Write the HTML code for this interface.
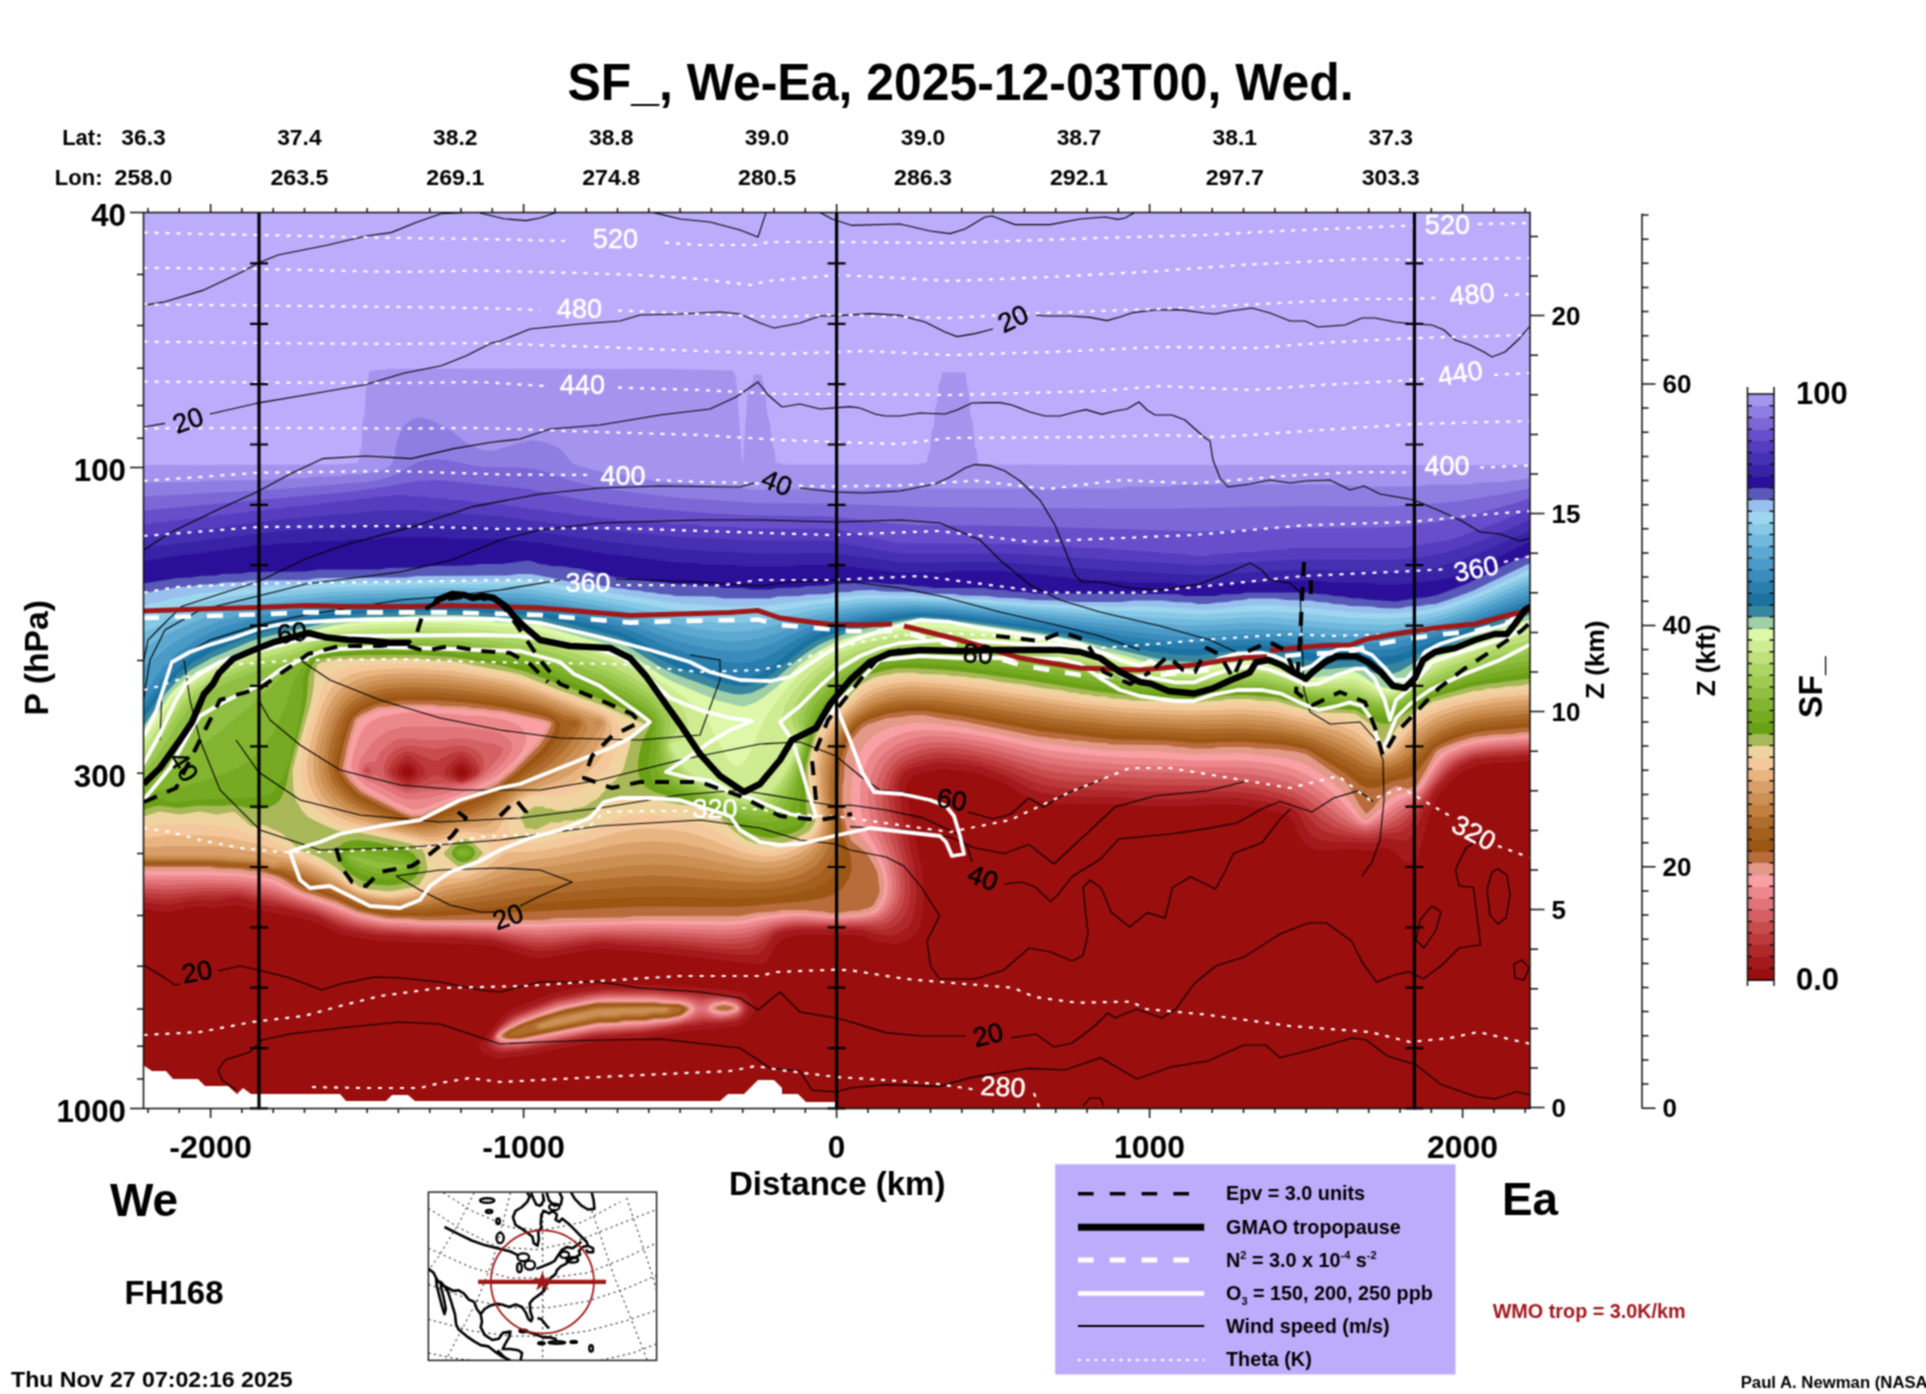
<!DOCTYPE html>
<html><head><meta charset="utf-8"><title>SF_ We-Ea</title><style>html,body{margin:0;padding:0;background:#fff}svg{display:block}</style></head><body>
<svg width="1926" height="1394" viewBox="0 0 1926 1394" font-family="Liberation Sans, Arial, Helvetica, sans-serif">
<defs><filter id="soft" filterUnits="userSpaceOnUse" x="0" y="0" width="1926" height="1394" color-interpolation-filters="sRGB"><feConvolveMatrix order="3" kernelMatrix="1 2 1 2 4 2 1 2 1" divisor="16" edgeMode="duplicate" preserveAlpha="true"/></filter></defs>
<g filter="url(#soft)">
<rect width="1926" height="1394" fill="#fff"/>
<defs><clipPath id="pc"><rect x="143.5" y="212.5" width="1386.5" height="895.9"/></clipPath></defs>
<g clip-path="url(#pc)">
<rect x="143.5" y="212.5" width="1386.5" height="895.9" fill="#9A0E0E"/>
<path fill="#A41A1C" d="M145.5,212.5 1530,212.5 1530,760.5 1511.5,762.5 1495.5,763 1477.5,765 1465.5,770 1456,776.5 1442,790.5 1435.5,801 1428.5,816.5 1418,856.5 1415.5,861.5 1411.5,863.5 1407.5,863 1403.5,861 1393.5,851 1387.5,848 1383.5,847.5 1375.5,850 1369.5,850.5 1349.5,849 1323.5,850.5 1317.5,850 1313.5,849 1306.5,844.5 1301.5,839.5 1298.5,834.5 1293.5,822 1289.5,817 1281.5,813 1265.5,809.5 1239.5,805 1231.5,804.5 1207.5,804.5 1191.5,806 1141.5,806 1121.5,804.5 1057.5,804 1035.5,800 1027.5,797.5 1003.5,782.5 979.5,773.5 963.5,771 941.5,769 921.5,773 913.5,776 910,778.5 907.5,782.5 906,788.5 910.5,816.5 921.5,866.5 923.5,888.5 923.5,906.5 921,922.5 917.5,932.5 913.5,936 905.5,941 899.5,943.5 895.5,944 877.5,942 863.5,936 857.5,935 809.5,934.5 795.5,935.5 785.5,938 780.5,940.5 777,944.5 767,960.5 763.5,963.5 759.5,964 735.5,962 661.5,953.5 603.5,948.5 595.5,949 543.5,958 537.5,958 527.5,956 497.5,947 487.5,945 379.5,941 359.5,938 339.5,934 319.5,924 311.5,921 287.5,915.5 257.5,910 237.5,905 231.5,905 213.5,908 197.5,906 169.5,912 163.5,912 143.5,909 143.5,212.5ZM406,766.5 403.5,768.5 401,772.5 402.5,774.5 405.5,776.5 409.5,776.5 412.5,774.5 414,772.5 413.5,771.5 409.5,766.5 407.5,766ZM460,766.5 457.5,768.5 455.5,772.5 457.5,775 461.5,776.5 465.5,775 467.5,772.5 467,770.5 463.5,767 461.5,766ZM617.5,984.5 659.5,985 671.5,986.5 695.5,987 735.5,991 743.5,993 747.5,995 753,1004.5 754,1010.5 752,1014.5 747,1020.5 741.5,1024.5 737.5,1026 723.5,1028 687.5,1031 643.5,1038 597.5,1041 523.5,1056 503.5,1058 495.5,1058 485.5,1054 481.5,1051 479,1048.5 479,1046.5 479.5,1044.5 497.5,1021.5 505.5,1013.5 513.5,1008.5 551.5,993.5 561.5,991 597.5,985Z"/>
<path fill="#B0282A" d="M145.5,212.5 1530,212.5 1530,755 1519.5,755.5 1511.5,757 1491.5,757.5 1485.5,759 1475.5,759.5 1472,760.5 1459.5,766.5 1452,772.5 1435.5,790 1423,812.5 1415.5,830 1413,834.5 1409.5,838 1405.5,840.5 1401.5,841 1385.5,838 1375.5,842.5 1369.5,843.5 1359.5,842.5 1329.5,841.5 1319.5,839.5 1313.5,836.5 1309.5,832.5 1305.5,827 1299,814.5 1295.5,810.5 1291.5,808.5 1278.5,804.5 1267.5,802 1235.5,797.5 1203.5,797.5 1187.5,799 1149.5,799 1137.5,799 1125.5,797.5 1059.5,796 1039.5,792 1031.5,789.5 1007,776.5 981.5,767 965.5,764.5 943.5,762.5 935.5,762.5 919.5,766.5 911.5,768.5 904,772.5 899.5,780.5 898,786.5 903,818.5 908,838.5 914.5,868.5 916.5,890.5 916,902.5 913,916.5 911,922.5 907.5,927.5 899.5,933.5 891.5,935.5 879.5,935 861.5,930 797.5,929.5 781.5,932 775,934.5 765.5,947.5 761.5,952 757.5,954.5 753.5,955 737.5,955 663.5,947 643.5,946.5 635.5,945 617.5,944.5 607.5,943 595.5,943.5 553.5,950 537.5,951.5 489.5,939.5 469.5,939.5 459.5,938 413.5,937.5 405.5,936 377.5,935.5 361.5,933 349.5,931 339.5,928 315.5,916 281.5,907.5 269.5,906 259.5,904 237.5,897.5 233.5,897.5 213.5,901 197.5,899.5 167.5,905 143.5,902.5 143.5,212.5ZM405.5,762.5 401.5,765 398.5,768.5 397.5,772.5 398,774.5 401.5,778 405.5,780 409.5,780.5 413.5,778 417,774.5 418,772.5 417.5,770.5 415,766.5 411.5,763.5 407.5,762ZM459.5,762.5 455.5,765 452.5,768.5 451.5,772.5 452.5,774.5 455.5,777 458,778.5 461.5,779.5 468.5,776.5 470.5,774.5 471.5,770.5 469,766.5 465.5,763.5 461.5,762ZM595.5,990 605.5,989 657.5,989 667.5,991 691.5,991.5 701.5,993.5 713.5,993.5 719.5,994.5 733.5,995 741.5,997.5 745.5,1000.5 748,1006.5 748.5,1010.5 743.5,1017.5 737.5,1021.5 727.5,1022.5 723.5,1023.5 705.5,1023.5 697.5,1025.5 685.5,1026 679.5,1028 647.5,1032.5 643.5,1033.5 623.5,1034 617.5,1035.5 595.5,1036.5 521.5,1051.5 511.5,1052 505.5,1053 499.5,1053 493.5,1051 488,1046.5 487.5,1044.5 488,1040.5 496,1028.5 507.5,1017 513.5,1013.5 553.5,998 563.5,995.5 571.5,994.5 575.5,993Z"/>
<path fill="#BC383A" d="M145.5,212.5 1530,212.5 1530,752.5 1491.5,755 1475.5,757 1469.5,759 1459.5,763.5 1450,770.5 1435.5,786 1413.5,820 1407.5,827 1399.5,832 1385.5,834 1373.5,838 1367.5,839 1345.5,836.5 1327.5,832.5 1321.5,829.5 1315.5,825 1302.5,810.5 1295.5,805 1281.5,799.5 1265.5,796 1243.5,792.5 1231.5,791.5 1151.5,792 1065.5,788.5 1051.5,786.5 1037.5,783.5 1003.5,769.5 979.5,762 965.5,759.5 943.5,757.5 933.5,758.5 921.5,760.5 909.5,764.5 901.5,769.5 895.5,778.5 893.5,786.5 893.5,796.5 895.5,810.5 907.5,860.5 910,880.5 910.5,892.5 909.5,902.5 906.5,912.5 901.5,920.5 893.5,926.5 887.5,929 881.5,930 875.5,929.5 861.5,927.5 803.5,927 793.5,927.5 781.5,929.5 773.5,932.5 763.5,941.5 757.5,945.5 751.5,948 745.5,949 723.5,949 663.5,943 605.5,940 593.5,940.5 551.5,946 537.5,947 527.5,945.5 489.5,937.5 471.5,937 459.5,935.5 415.5,935 405.5,933.5 379.5,933 361.5,930 341.5,925.5 315.5,913.5 281.5,904.5 237.5,894.5 215.5,896 197.5,895.5 167.5,899.5 143.5,898 143.5,212.5ZM405,756.5 395.5,765 391.5,770.5 391.5,772.5 392.5,774.5 399.5,780 407.5,784.5 413.5,782.5 421.5,777 424,774.5 425,772.5 423.5,768 416,760.5 409.5,756 407.5,755.5ZM458.5,756.5 447.5,765.5 445,768.5 444,772.5 445.5,774.5 448.5,776.5 457,780.5 461.5,781.5 469.5,778.5 475,774.5 477,772.5 477,770.5 473.5,765.5 467,758.5 461.5,755.5ZM593.5,992.5 603.5,991 655.5,991 667.5,992.5 689.5,994 701.5,996 713.5,995.5 731.5,996.5 741.5,1000.5 744.5,1004.5 745.5,1008.5 744.5,1012.5 739.5,1018 735.5,1019.5 723.5,1021.5 703.5,1021.5 643.5,1031.5 597,1034.5 519.5,1049.5 501.5,1050.5 495.5,1048.5 492,1044.5 491,1042.5 491.5,1038.5 494.5,1032.5 503.5,1023 513.5,1016 555.5,999.5 585.5,993.5Z"/>
<path fill="#C84C4C" d="M145.5,212.5 1530,212.5 1530,749.5 1493.5,752 1477.5,754 1469.5,756 1459.5,760.5 1451.5,765.5 1443.5,773.5 1433.5,785 1415.5,809.5 1403.5,822 1397.5,826 1391.5,828 1373.5,834 1365.5,835 1349.5,832.5 1333.5,827 1322.5,820.5 1304,804.5 1295.5,799 1281.5,793.5 1263.5,789 1247.5,787 1231.5,785.5 1151.5,785.5 1069.5,781.5 1053.5,779.5 1039.5,776 997.5,761.5 975.5,756 959.5,754 943.5,752.5 933.5,753 921.5,755 907.5,760 898,766.5 892.5,774.5 890,780.5 888.5,786.5 888,798.5 890,812.5 902.5,860.5 905,880.5 905,892.5 903.5,902.5 900,910.5 895.5,917 887.5,923 877.5,925.5 799.5,925 783.5,926.5 773.5,929.5 755.5,940 749.5,942 741.5,943.5 723.5,944 663.5,939.5 603.5,937 591.5,937.5 549.5,942.5 537.5,942.5 525.5,941.5 489.5,935 457.5,933.5 419.5,933 381.5,930.5 363.5,928 349.5,925 339.5,921.5 315.5,911 281.5,901.5 241.5,892 233.5,891 197.5,892 167.5,894.5 143.5,893 143.5,212.5ZM403,752.5 396.5,756.5 391.5,762 388.5,768.5 388,772.5 389.5,775.5 392.5,778.5 399.5,783.5 405.5,786.5 409.5,787 415.5,785 425,780.5 433.5,775 437.5,775.5 447.5,780 461.5,783 471.5,779 477.5,775 479.5,772.5 479,766.5 475.5,759.5 470,754.5 463.5,751.5 459.5,751.5 454.5,752.5 437.5,760 433.5,761 413.5,752.5 407.5,751.5ZM591.5,994.5 605.5,992.5 651.5,992.5 685.5,995.5 701.5,998.5 713.5,997.5 727.5,997.5 733.5,998.5 739.5,1001.5 742.5,1004.5 743.5,1008.5 742,1012.5 739.5,1015.5 735.5,1017.5 731.5,1018.5 719.5,1020 701.5,1019 677.5,1024.5 643.5,1030 595.5,1033 521.5,1047.5 507.5,1048.5 501.5,1048 497.5,1046.5 494,1042.5 493,1038.5 493.5,1036.5 497.5,1030.5 507.5,1021.5 515.5,1016.5 555.5,1001.5Z"/>
<path fill="#D46064" d="M145.5,212.5 1530,212.5 1530,746.5 1493.5,749.5 1481.5,751 1469.5,753.5 1459.5,757.5 1451.5,762 1444.5,768.5 1435.5,779 1421.5,797.5 1411.5,808 1401.5,816.5 1393.5,821.5 1383.5,826.5 1373.5,830 1365.5,831.5 1353.5,829 1338.5,822.5 1327.5,815.5 1307.5,799.5 1295.5,792.5 1281.5,787 1265.5,783 1249.5,781 1231.5,779.5 1149.5,778.5 1073.5,774.5 1057.5,772.5 1041.5,769.5 995.5,755.5 971.5,750.5 955.5,748 941.5,747.5 929.5,748 919.5,750 905.5,755 899.5,758.5 894.5,762.5 887,772.5 883,784.5 882,796.5 883.5,812.5 886.5,826.5 897.5,860.5 900.5,880.5 900.5,890.5 898.5,900.5 895,908.5 890.5,914.5 885.5,918.5 881.5,920.5 871.5,922.5 835.5,924 799.5,922.5 785.5,924 773.5,927 751.5,936.5 739.5,938.5 721.5,939 661.5,935.5 603.5,934 587.5,935 549.5,938.5 537.5,938.5 525.5,937.5 489.5,932.5 457.5,931 421.5,931 383.5,928.5 365.5,926 351.5,922.5 315.5,908.5 273.5,895.5 243.5,888.5 229.5,887.5 197.5,888 167.5,889.5 143.5,888.5 143.5,212.5ZM402.5,746.5 395.5,749.5 388,756.5 384,764.5 383.5,770.5 386,776.5 389.5,780.5 397.5,785.5 405.5,789.5 413.5,789 435.5,783.5 463.5,783.5 471.5,780.5 477.5,777 481.5,772.5 483.5,768.5 484,760.5 481,754.5 475.5,750 467.5,746.5 457.5,745.5 439.5,748.5 433.5,749 411.5,745.5ZM365,768.5 364,770.5 365.5,772.5 367.5,773.5 370,772.5 371,770.5 369.5,767.5 367.5,767ZM603.5,994.5 655.5,994.5 685.5,997.5 701.5,1001.5 713.5,999 727.5,999 733.5,1000 737.5,1002 740.5,1004.5 742,1008.5 740.5,1012.5 738,1014.5 729.5,1017.5 719.5,1018.5 701.5,1016 681.5,1022.5 667.5,1025 641.5,1028.5 595.5,1031.5 521.5,1046 503.5,1046.5 497.5,1044 495,1040.5 494.5,1036.5 499.5,1029.5 509.5,1022 519.5,1016.5 557.5,1002.5 587.5,996.5Z"/>
<path fill="#E07478" d="M145.5,212.5 1530,212.5 1530,744 1481.5,748 1469.5,750.5 1457.5,755.5 1449.5,760 1443.5,765.5 1437.5,772.5 1423.5,791.5 1413.5,801 1395.5,814.5 1386,820.5 1373.5,826.5 1365.5,828 1357.5,826.5 1346,820.5 1334.5,812.5 1315,796.5 1301.5,788 1285.5,781.5 1267.5,777 1251.5,774.5 1233.5,773 1185.5,773 1141.5,771.5 1079.5,768 1045.5,763.5 991.5,749 965.5,744 949.5,742.5 937.5,742 925.5,743 915.5,744.5 901.5,749.5 895.5,753.5 889.5,758.5 884.5,764.5 881,770.5 878.5,776.5 876,784.5 875,798.5 877,814.5 880.5,828.5 892.5,860.5 896,878.5 896,888.5 895,896.5 892,904.5 887.5,911 879.5,917 869.5,920 839.5,922 801.5,920.5 789.5,921 775.5,923.5 751.5,931.5 737.5,934 719.5,934.5 657.5,931.5 603.5,931 537.5,935 489.5,930.5 421.5,928.5 385.5,926.5 367.5,924 353.5,920.5 321.5,908 277.5,893 261.5,888.5 247.5,885.5 227.5,884 197.5,883.5 165.5,885 143.5,884 143.5,212.5ZM402,738.5 393.5,741 385.5,747 380,752.5 375.5,761.5 369.5,762 365.5,763.5 362.5,766.5 361.5,770.5 363.5,774 367.5,776 371.5,776 375.5,774.5 377.5,775 387.5,784 401.5,791.5 405.5,793 415.5,793 423.5,791 435.5,790.5 461.5,785.5 471.5,782.5 477.5,779.5 484,774.5 499.5,756.5 503.5,748.5 501,746.5 491.5,743.5 465.5,738.5 451.5,738.5 443.5,740 433.5,740 421.5,740 413.5,738.5ZM599.5,996.5 649.5,996 679.5,998.5 690.5,1000.5 701.5,1006 713.5,1001 725.5,1000 736,1002.5 739.5,1005.5 740.5,1008.5 740,1010.5 737.5,1013 729.5,1016 721.5,1017 715.5,1016.5 709.5,1014.5 701.5,1011.5 689.5,1018 677.5,1022 643.5,1026.5 597.5,1030 521.5,1044.5 511.5,1045 503.5,1044.5 497.5,1041.5 495.5,1038.5 496.5,1034.5 501.5,1029.5 511.5,1022.5 521.5,1017.5 557.5,1004.5Z"/>
<path fill="#EC888C" d="M145.5,212.5 1530,212.5 1530,741 1495.5,743.5 1477.5,746 1465.5,749 1453.5,754 1447.5,757.5 1441.5,763 1435.5,770.5 1423.5,788 1417.5,794 1398,806.5 1378,820.5 1371.5,824 1365.5,825.5 1359.5,824 1354,820.5 1324,794.5 1309.5,784.5 1293.5,776.5 1273.5,771 1255.5,768.5 1237.5,767 1185.5,766.5 1117.5,764 1085.5,761.5 1063.5,759.5 1045.5,756.5 989.5,743 959.5,738 945.5,736.5 931.5,736 919.5,737 909.5,739.5 895.5,745 885,752.5 876.5,762.5 873.5,768.5 870.5,776.5 869,784.5 868,794.5 869,812.5 873.5,828.5 884.5,852.5 889,864.5 891.5,876.5 892,888.5 891,894.5 889.5,900.5 886,906.5 883,910.5 877.5,914.5 873.5,916.5 861.5,918.5 835.5,920 801.5,918 789.5,918.5 773.5,921 745.5,928 727.5,930 637.5,927.5 591.5,928 537.5,931 487.5,928 419.5,926.5 385.5,924.5 357.5,919 325,906.5 297.5,897.5 273.5,888 251.5,882.5 235.5,880.5 205.5,879.5 143.5,880 143.5,212.5ZM406.5,726.5 397.5,728 389.5,730.5 383.5,733.5 377.5,738 371.5,744 361.5,757.5 359,762.5 358,768.5 360,774.5 365.5,780 375.5,784 397.5,796 407.5,799.5 419.5,799.5 435.5,796.5 455.5,791 475.5,784 487.5,776.5 499.5,766.5 508.5,756.5 512.5,748.5 511.5,742.5 507.5,737.5 499.5,733 489.5,730.5 475.5,728.5 459.5,727ZM595.5,998.5 607.5,997.5 649.5,997.5 679.5,1000 685.5,1001 691.5,1003 695.5,1006.5 696.5,1008.5 694.5,1012.5 689,1016.5 681.5,1019.5 669.5,1022 645.5,1025 597.5,1028 521.5,1043 511.5,1043.5 503.5,1043 499.5,1041.5 497,1038.5 496.5,1036.5 497,1034.5 499.5,1032 511.5,1024 521.5,1019 557.5,1006ZM715.5,1002 723.5,1001 731.5,1002.5 737.5,1005 739.5,1008.5 737.5,1011.5 729.5,1014.5 721.5,1015.5 713.5,1014 709.5,1012.5 707.5,1010.5 707,1008.5 709.5,1004.5Z"/>
<path fill="#F8A0A4" d="M145.5,212.5 1530,212.5 1530,738 1495.5,740.5 1477.5,743 1463.5,746.5 1451.5,751.5 1445.5,755 1439.5,760.5 1433.5,768.5 1423.5,784.5 1419.5,789.5 1411.5,795 1395.5,802 1372,820.5 1368.5,822.5 1365.5,823 1361.5,821.5 1357.5,818.5 1333.5,793.5 1317.5,780.5 1299.5,771 1289.5,767.5 1279.5,765 1263.5,762.5 1241.5,760.5 1191.5,760.5 1159.5,758.5 1115.5,757 1093.5,755.5 1045.5,750 983.5,736.5 953.5,731.5 925.5,730 913.5,731 903.5,733 895.5,736 887.5,739.5 881.5,743.5 876,748.5 871,754.5 867.5,760.5 862.5,774.5 860.5,784.5 860,796.5 860.5,806.5 862,816.5 866.5,830.5 879,852.5 884,864.5 887,874.5 888,888.5 886,898.5 883,904.5 879.5,909.5 875.5,912.5 871.5,914 859.5,916.5 833.5,918 803.5,915.5 789.5,916 765.5,919.5 743.5,924 727.5,925.5 639.5,924 579.5,925.5 537.5,927.5 487.5,925.5 419.5,924.5 407.5,923 385.5,922 357.5,916.5 332.5,906.5 299.5,895.5 273.5,884 255.5,879 237.5,876.5 205.5,875.5 143.5,875.5 143.5,212.5ZM406.5,712.5 381.5,716.5 372.5,720.5 365.5,726 361.5,731.5 357.5,740.5 352.5,756.5 351,766.5 352.5,770.5 357.5,778.5 365.5,786 395.5,802.5 411.5,809 417.5,809.5 423.5,808 469.5,790.5 493,778.5 497.5,776 509.5,765.5 516.5,758.5 522.5,750.5 525.5,742.5 526.5,738.5 526,734.5 522.5,728.5 519.5,726 513.5,723 501.5,719 481.5,716 463.5,715.5 455.5,714 435.5,713.5 423.5,712ZM593.5,1000.5 605.5,999.5 655.5,999.5 663.5,1000.5 681.5,1001.5 690,1004.5 693,1006.5 694,1008.5 693.5,1010.5 691.5,1012.5 685,1016.5 679.5,1018.5 667.5,1021 655.5,1022 647.5,1023.5 627.5,1024 617.5,1025.5 597.5,1026.5 521.5,1041.5 503.5,1041 499.5,1039.5 497.5,1037 498.5,1034.5 503.5,1030.5 523.5,1020 557.5,1007.5ZM721.5,1002 725.5,1002 733.5,1004 737.5,1006.5 738.5,1008.5 737.5,1010 735.5,1011.5 725.5,1014 717.5,1013.5 713.5,1012.5 710,1010.5 709,1008.5 710,1006.5 711.5,1005Z"/>
<path fill="#E49888" d="M145.5,212.5 1530,212.5 1530,735.5 1521.5,735.5 1513.5,737 1493.5,737.5 1475.5,740 1461.5,744 1445.5,751 1440,754.5 1436.5,758.5 1419.5,786.5 1409.5,792.5 1399.5,793.5 1391.5,797.5 1385.5,802.5 1370,818.5 1367.5,820.5 1365.5,821 1363.5,820 1360,816.5 1341.5,790.5 1333,782.5 1321.5,774 1307.5,765.5 1299.5,762 1289.5,759 1273.5,756.5 1243.5,753.5 1225.5,753.5 1193.5,754.5 1161.5,751.5 1115.5,751 1091.5,749 1049.5,744 1035.5,742 969.5,728.5 933.5,723.5 913.5,723 895,726.5 885.5,729.5 876,734.5 869.5,739.5 863.5,746.5 859,754.5 855,764.5 853,774.5 851,790.5 851.5,806.5 855,824.5 859.5,834.5 872,850.5 880.5,866.5 882.5,872.5 884.5,884.5 884,894.5 878,906.5 873.5,910.5 869.5,912.5 861.5,914 843.5,916 829.5,916 803.5,913 793.5,913 783.5,913.5 759.5,916.5 743.5,920 731.5,921 639.5,920.5 623.5,921.5 561.5,922.5 539.5,924 417.5,922.5 409.5,921 385.5,920 357.5,914.5 333.5,904 301.5,894 275.5,880 259.5,875.5 239.5,873 217.5,872 207.5,871 143.5,871 143.5,212.5ZM397.5,708.5 379.5,709.5 361.5,718 358,720.5 356,724.5 350,746.5 346,764.5 346,768.5 346.5,770.5 354.5,780.5 363.5,789.5 393.5,805.5 411.5,814 421.5,813.5 435.5,807 471.5,793 497.5,780.5 505.5,773 511.5,769 528,752.5 540,738.5 546.5,728.5 548,724.5 545.5,722.5 531.5,719 501.5,713 491.5,713 483.5,711 469.5,710.5 457.5,709 439.5,708.5 429.5,707 403.5,707ZM593.5,1002 603.5,1001 655.5,1001 663.5,1002.5 681.5,1003 689.5,1006 691.5,1008.5 691,1010.5 683.5,1015.5 679.5,1017.5 667.5,1019.5 653.5,1020.5 647.5,1022 625.5,1022.5 617.5,1024 597.5,1024.5 521.5,1040 509.5,1040 503.5,1039.5 500.5,1038.5 499,1036.5 499.5,1034.5 502.5,1032.5 515.5,1025 539.5,1015.5 565.5,1007.5ZM717.5,1004.5 725.5,1003.5 733.5,1005.5 735.5,1006.5 737,1008.5 735.5,1009.5 729.5,1012 723.5,1012.5 713.5,1010.5 711.5,1009 711,1008.5 712.5,1006.5Z"/>
<path fill="#B86C3C" d="M145.5,212.5 1530,212.5 1530,732 1519.5,732.5 1511.5,734 1491.5,734.5 1485.5,736 1475.5,736.5 1459.5,741 1443.5,747 1437.5,750.5 1435.5,752.5 1417.5,784.5 1409.5,788.5 1406.5,788.5 1397.5,786 1395.5,786 1389.5,789.5 1385.5,792.5 1371.5,809.5 1367.5,813 1365.5,813.5 1359.5,805 1347.5,784 1344.5,780.5 1309.5,756 1305.5,754 1295.5,751.5 1285.5,750.5 1277.5,749 1257.5,748.5 1249.5,747 1219.5,747 1211.5,748.5 1193.5,748.5 1183.5,747 1173.5,746.5 1165.5,745 1111.5,744.5 1105.5,743 1091.5,742.5 1085.5,741 1071.5,740.5 1065.5,739 1051.5,738.5 1045.5,737 1037.5,736.5 961.5,721 941.5,718.5 923.5,715 907.5,715.5 901.5,717 887.5,718 867.5,724.5 861.5,728.5 851.5,740.5 849.5,744.5 845,758.5 844,778.5 842.5,786.5 842.5,804.5 844.5,820.5 847,830.5 851,840.5 866,852.5 873.5,864.5 877.5,873 879.5,888.5 879.5,893 877.5,897.5 873.5,905 871.5,906.5 867.5,908.5 863.5,909 860,910.5 849.5,911 843.5,912.5 829.5,913 823.5,911.5 811.5,911 805.5,910 787.5,910 781.5,910 775.5,911.5 757.5,912.5 739.5,916 635.5,916 623.5,917.5 555.5,918 547.5,919.5 541.5,920 421.5,920 411.5,918.5 387.5,918 357.5,911.5 335.5,901.5 303.5,891.5 295.5,887.5 283.5,879.5 277.5,876.5 259.5,871.5 247.5,870.5 239.5,869 217.5,868.5 209.5,867 143.5,867 143.5,212.5ZM400.5,704.5 395.5,706 377.5,707 361.5,714.5 356,718.5 354,722.5 347.5,744.5 342.5,768.5 344,772.5 351.5,782.5 361.5,792 401.5,812.5 411.5,816.5 421.5,816 481.5,792 497.5,784 513.5,771 540,744.5 545.5,736.5 551,726.5 551.5,724.5 551,722.5 549.5,721.5 541.5,719 501.5,710.5 491.5,710 485.5,708.5 471.5,708 465.5,706.5 441.5,706 433.5,704.5ZM597.5,1002.5 655.5,1002.5 661.5,1003.5 679.5,1004 686,1006.5 688.5,1008.5 687.5,1010.5 682.5,1014.5 679.5,1016 667.5,1018.5 653.5,1019 645.5,1020.5 623.5,1021 617.5,1022.5 597.5,1023 521.5,1038.5 509.5,1039 505.5,1038.5 502,1036.5 502.5,1034.5 505,1032.5 509.5,1029.5 521.5,1023.5 539.5,1017 565.5,1009ZM717.5,1006.5 723.5,1005 731.5,1006.5 733.5,1008.5 728,1010.5 720.5,1010.5 715,1008.5Z"/>
<path fill="#9C5614" d="M145.5,212.5 1530,212.5 1530,727.5 1491.5,730.5 1475.5,732.5 1465.5,735 1453.5,739 1441.5,744 1434,748.5 1419.5,769 1411.5,776.5 1405.5,779 1395.5,780.5 1377.5,787.5 1371.5,788 1365.5,787.5 1359.5,784.5 1345.5,773.5 1311.5,752 1305.5,749 1295.5,747 1279.5,744.5 1247.5,742 1221.5,742 1197.5,743.5 1165.5,740.5 1115.5,739.5 1039.5,731 963.5,716.5 925.5,711 907.5,711 887.5,713.5 867.5,720 863,722.5 858,726.5 847,740.5 841,758.5 838.5,784.5 839,808.5 843.5,836.5 850,854.5 851.5,860.5 851.5,870.5 849,878.5 843.5,887 839.5,890.5 833.5,894.5 822,898.5 807.5,901 735.5,907 641.5,906.5 431.5,916.5 391.5,915.5 377.5,913.5 359.5,909.5 335.5,898.5 303.5,887.5 281.5,875.5 261.5,869.5 241.5,867 219.5,866.5 211.5,865 143.5,865 143.5,212.5ZM402,700.5 375.5,704 361.5,710.5 353.5,716.5 350.5,722.5 344,742.5 340,760.5 339,768.5 340,772.5 347,782.5 352.5,788.5 359.5,794.5 382.5,806.5 409.5,818.5 421.5,818.5 433.5,815 473.5,799.5 485.5,794.5 497.5,788 517,772.5 541.5,749.5 550,738.5 553.5,732 555.5,726.5 555,722.5 553.5,720.5 549.5,718 533.5,713.5 503.5,707.5 465.5,702.5 435.5,700.5ZM595.5,1004 601.5,1003.5 655.5,1003.5 661.5,1004.5 679.5,1005 683,1006.5 685.5,1008.5 685,1010.5 683.5,1012.5 679.5,1014.5 667.5,1017 653.5,1017.5 645.5,1019.5 623.5,1019.5 617.5,1021.5 597.5,1021.5 521.5,1037.5 511.5,1038 506,1036.5 505.5,1034.5 507.5,1032 521.5,1025 539.5,1018 565.5,1010Z"/>
<path fill="#A4601E" d="M145.5,212.5 1530,212.5 1530,723 1485.5,727 1469.5,730 1455.5,734 1441.5,740 1433.5,744.5 1429,748.5 1415.5,764.5 1407.5,771 1401.5,773.5 1387.5,777.5 1379.5,779 1373.5,779.5 1365.5,778 1359.5,775.5 1328.5,756.5 1311.5,747.5 1299.5,743.5 1281.5,740.5 1245.5,737.5 1197.5,738.5 1163.5,736 1115.5,734.5 1043.5,726.5 965.5,713 927.5,707.5 909.5,707 887.5,710 869.5,716 858.5,722.5 853.5,727.5 846.5,736.5 843,742.5 840.5,750.5 837.5,762.5 835.5,790.5 836,806.5 840.5,854.5 839,864.5 835,872.5 830,878.5 825.5,882.5 814,888.5 797.5,893 773.5,896.5 733.5,898.5 669.5,896.5 635.5,897 559.5,901.5 427.5,912.5 391.5,912.5 377.5,910.5 359.5,906.5 335.5,895.5 305.5,884.5 285.5,874.5 259.5,867.5 241.5,865.5 225.5,865 209.5,863.5 143.5,863 143.5,212.5ZM399,696.5 381.5,698.5 371.5,701 359.5,707 351.5,714 346.5,722.5 341,738.5 337,756.5 336,768.5 337.5,774.5 342.5,782.5 349,790.5 356,796.5 363.5,801 377.5,808 399.5,817 409.5,820.5 421.5,821 433.5,818.5 473.5,804 491.5,795.5 501.5,789 518,776.5 542,756.5 548,750.5 554,742.5 558,736.5 560,730.5 560.5,726.5 559,722.5 553.5,717 539.5,712 513.5,705.5 487.5,701.5 461.5,698.5 427.5,696ZM593.5,1006 599.5,1005 653.5,1004.5 679.5,1006 683.5,1008.5 683.5,1010.5 679.5,1013 667.5,1016 653.5,1016 645.5,1018 623.5,1018.5 617.5,1020 597.5,1020.5 515.5,1037 509.5,1037 507,1034.5 508.5,1032.5 521.5,1026 557.5,1013.5Z"/>
<path fill="#B06C2C" d="M145.5,212.5 1530,212.5 1530,718.5 1481.5,723 1467.5,726 1453.5,730 1441.5,735.5 1431.5,741.5 1411.5,761 1403.5,766.5 1391.5,771 1377.5,773 1369.5,772 1361.5,769 1329.5,751 1313.5,744 1299.5,739.5 1279.5,736 1245.5,733 1195.5,733.5 1115.5,730 1047.5,722.5 967.5,708.5 933.5,704.5 909.5,703.5 887.5,706.5 871.5,711.5 863.5,715.5 857.5,720 851.5,725.5 845.5,733 842,738.5 838.5,746.5 835,760.5 833,782.5 833,796.5 835,826.5 834.5,842.5 832.5,854.5 828,864.5 819.5,873.5 807.5,881 791.5,886 771.5,889 739.5,890 669.5,886 629.5,887 535.5,895 423.5,909 391.5,909.5 375.5,907.5 359.5,904 287.5,872.5 281.5,870.5 271.5,869.5 257.5,865.5 243.5,864 209.5,861.5 143.5,861.5 143.5,212.5ZM394,692.5 379.5,694.5 367.5,698 355.5,705 347.5,712.5 342,722.5 336.5,738.5 332.5,756.5 332.5,768.5 334.5,776.5 339,784.5 345.5,792.5 353.5,799 362,804.5 375,810.5 397.5,819.5 409.5,823 421.5,824 435.5,821 473.5,808.5 489.5,801 501.5,793 545.5,760.5 557.5,748.5 569.5,731 578,724.5 578,722.5 575.5,720.5 565.5,720.5 553.5,713.5 543.5,710 523.5,704 501.5,699.5 467.5,695 435.5,692 413.5,691.5ZM597.5,1006.5 655.5,1006 667.5,1006.5 681,1008.5 680.5,1010.5 677.5,1012 665.5,1015 651.5,1015 645.5,1017 623.5,1017 617.5,1018.5 597.5,1019 591.5,1021 521.5,1034.5 513.5,1035.5 509,1034.5 511.5,1032.5 524.5,1026.5 557.5,1015Z"/>
<path fill="#C08040" d="M145.5,212.5 1530,212.5 1530,713.5 1481.5,718.5 1465.5,722 1451.5,726.5 1439.5,731.5 1429.5,738 1409.5,756.5 1401.5,762 1391.5,766.5 1381.5,767.5 1373.5,767 1365.5,764.5 1333.5,747.5 1315.5,740 1299.5,735 1277.5,731.5 1243.5,728.5 1193.5,729 1117.5,725.5 1051.5,718 971.5,705 939.5,700.5 913.5,699.5 901.5,700 889.5,702 879.5,704.5 871.5,708 857.5,716 851.5,721.5 845.5,728.5 841,734.5 837,742.5 832.5,756.5 830,774.5 829.5,792.5 831.5,820.5 831,832.5 828.5,846.5 823.5,857 815.5,866 803.5,873.5 789.5,878.5 771.5,881.5 755.5,882.5 739.5,882 667.5,876 649.5,875.5 629.5,876.5 595.5,879.5 527.5,887.5 477.5,896.5 421.5,905.5 391.5,907 375.5,905 361.5,902 352.5,898.5 325.5,885 291,870.5 283.5,868.5 273.5,868.5 255.5,863 211.5,860 143.5,860 143.5,212.5ZM388,688.5 373.5,691 361.5,695.5 351.5,702 343.5,710.5 337,722.5 331,740.5 328,756.5 328.5,770.5 331.5,780.5 336.5,788.5 343.5,796.5 351,802.5 361.5,808.5 373.5,813.5 395.5,821.5 409.5,825.5 421.5,826.5 435.5,825 473.5,813.5 487.5,807 515.5,787 544,768.5 554.5,760.5 567.5,746.5 578,732.5 581.5,726.5 581.5,722.5 580,720.5 577.5,718.5 565.5,715.5 551.5,709.5 537.5,704.5 505.5,696.5 469.5,691 437.5,688 411.5,687ZM595.5,1008.5 599.5,1008 653.5,1007 665.5,1007 670.5,1008.5 670.5,1010.5 665.5,1013 651.5,1013.5 643.5,1015.5 623.5,1015.5 615.5,1017 597.5,1017.5 541.5,1029.5 536,1028.5 535,1026.5 536,1024.5 539.5,1022.5 558,1016.5Z"/>
<path fill="#CC9054" d="M145.5,212.5 1530,212.5 1530,709 1481.5,714 1465.5,717.5 1451.5,721.5 1437.5,728 1427.5,734 1405.5,754 1399,758.5 1389.5,762.5 1381.5,763 1375.5,762.5 1367.5,759.5 1339.5,744.5 1321.5,737 1299.5,731 1273.5,726 1243.5,723.5 1191.5,724.5 1119.5,721 1055.5,714 975.5,701 941.5,696.5 911.5,695 899.5,696 889.5,698 873.5,703 865.5,707 857.5,712.5 850.5,718.5 843.5,726 838.5,732.5 834.5,740.5 829,756.5 826.5,772.5 826.5,790.5 829,818.5 828,828.5 825,840.5 820,850.5 811.5,860 801.5,866.5 787.5,872 771.5,874.5 757.5,875.5 741.5,874.5 693.5,867.5 671.5,865 651.5,864.5 629.5,865.5 525.5,879 509.5,882 477,890.5 447.5,895.5 421.5,902 407.5,903.5 391.5,904.5 373.5,902.5 359.5,899 319.5,879 295.5,869 285.5,865.5 281.5,865.5 273.5,867 255.5,861 229.5,860 219.5,858.5 143.5,858 143.5,212.5ZM409,682.5 387.5,684 371.5,686.5 357.5,692 347.5,699 339,708.5 332,722.5 326,742.5 323.5,760.5 324,772.5 327.5,782.5 333.5,792.5 341.5,800.5 351.5,807.5 361.5,812.5 382.5,820.5 403.5,827 419.5,829.5 433.5,829 475.5,817.5 485.5,813.5 493.5,808.5 517.5,789.5 548,772.5 561.5,763 570.5,754.5 577.5,746 584,736.5 588,728.5 588,726.5 586.5,722.5 582.5,718.5 577.5,715.5 543.5,703 519.5,695.5 495.5,690.5 461.5,685.5 433.5,683ZM595,722.5 595.5,724 597.5,724.5 599.5,722.5 597.5,722ZM647.5,1008.5 653.5,1008 667.5,1008.5 667,1010.5 665.5,1011 653.5,1011.5 645.5,1013 623.5,1013.5 613.5,1015.5 597.5,1015.5 541.5,1028 538.5,1026.5 539.5,1024.5 553.5,1020 597.5,1010 619.5,1008.5Z"/>
<path fill="#D8A068" d="M145.5,212.5 1530,212.5 1530,704 1479.5,710 1463.5,713.5 1447.5,718.5 1435.5,723.5 1424.5,730.5 1397.5,754.5 1391.5,758 1383.5,759.5 1377.5,758.5 1372.5,756.5 1347.5,742 1329.5,734.5 1297.5,726 1271.5,721 1243.5,719 1191.5,720 1123.5,717 1067.5,711 977.5,697 943.5,692.5 911.5,691 899.5,692 889.5,693.5 879.5,696 871.5,699.5 863.5,704 855.5,710 847.5,717 840.5,724.5 835,732.5 830.5,740.5 826,754.5 823,772.5 823,786.5 826,814.5 826,824.5 823,834.5 818,844.5 809.5,853.5 799.5,860.5 787.5,865 773.5,868 759.5,868.5 743.5,867 695.5,857.5 673.5,854.5 653.5,853.5 633.5,854 615.5,856 519.5,871 505.5,875 475.5,885 445.5,890.5 419.5,898.5 403.5,901 389.5,901.5 371.5,899.5 359.5,896.5 319.5,875.5 295.5,865 285.5,862 279.5,862 273.5,864 255.5,858 229.5,857 221.5,855.5 143.5,855.5 143.5,212.5ZM392.5,678.5 373.5,681 359.5,685 347.5,691.5 339.5,699.5 331,712.5 324,730.5 319,752.5 318.5,768.5 321,780.5 325.5,790 332,798.5 341.5,806.5 351.5,812.5 363.5,817.5 389.5,826 407.5,830.5 421.5,833 433.5,833 441.5,831 459.5,825.5 479.5,821.5 487.5,818.5 495.5,813 508.5,800.5 517.5,793.5 527.5,788 553.5,776 568.5,766.5 575,760.5 582.5,752.5 603.5,724.5 603.5,722.5 602,720.5 599.5,719 589.5,717.5 577.5,712 543.5,699 523.5,693 507.5,689 477.5,683.5 447.5,679.5 417.5,678Z"/>
<path fill="#E8B480" d="M145.5,212.5 1530,212.5 1530,699 1497.5,702.5 1477.5,705.5 1459.5,709.5 1443.5,714.5 1433.5,719 1423.5,725.5 1413.5,733.5 1395.5,751.5 1389.5,755.5 1385.5,756 1381.5,755.5 1375.5,753.5 1353.5,738.5 1339.5,732 1327.5,728.5 1293.5,720.5 1271.5,716.5 1241.5,714 1191.5,715.5 1129.5,713 1079.5,707.5 981.5,693 945.5,688.5 911.5,686.5 899.5,687.5 889.5,689 873.5,694 861.5,701 845.5,714.5 838,722.5 832,730.5 827.5,738.5 824.5,746.5 822,756.5 820,766.5 820,786.5 823.5,818.5 823,824.5 820.5,832.5 817.5,837.5 813.5,843 807.5,848.5 801.5,852.5 787.5,859 773.5,861.5 759.5,862 745.5,860 699.5,847.5 677.5,843 655.5,841.5 633.5,842 617.5,844.5 561.5,856 513.5,863 505.5,865.5 482.5,876.5 471.5,880.5 443.5,885.5 423.5,894 415.5,896.5 401.5,898.5 389.5,899.5 369.5,897 359.5,894 352,890.5 329.5,876.5 311.5,868 287.5,858.5 271.5,855.5 257.5,852 223.5,847 209.5,846 171.5,846 143.5,847.5 143.5,212.5ZM381.5,674.5 365.5,677 351.5,682 341.5,688.5 333.5,697 325.5,712.5 317.5,736.5 313.5,756.5 313.5,772.5 316.5,784.5 321.5,794.5 328,802.5 337.5,810 345.5,815 355.5,819 399.5,831.5 421.5,836 433.5,837 441.5,835.5 461.5,828.5 481.5,827 489.5,824.5 495.5,820.5 511,802.5 519.5,796 529.5,791 559.5,780.5 569.5,775 578.5,768.5 587,760.5 595,750.5 602,738.5 606,728.5 606.5,722.5 603.5,718.5 601.5,717 589.5,713 539.5,694 511.5,685.5 477.5,679 445.5,675 411.5,673Z"/>
<path fill="#F4C89C" d="M145.5,212.5 1530,212.5 1530,694.5 1493.5,698 1475.5,701 1455.5,705.5 1439.5,711 1427.5,716.5 1417.5,723.5 1407.5,732.5 1392,750.5 1389,752.5 1385.5,753.5 1381.5,752.5 1378,750.5 1357.5,733.5 1345.5,727.5 1335,724.5 1311.5,720 1273.5,711.5 1241.5,709 1191.5,711 1131.5,708.5 1081.5,703.5 959.5,685.5 939.5,683.5 913.5,682 901.5,682.5 891.5,684 875.5,688 867.5,692 861.5,696 849.5,706 839,716.5 832,724.5 826.5,732.5 823,740.5 820,748.5 817.5,758.5 816,770.5 817,790.5 821,816.5 820.5,824.5 816.5,832.5 811.5,839 803.5,845.5 793.5,850.5 785.5,853.5 775.5,856 767.5,856.5 757.5,855.5 741.5,852 707.5,838.5 687.5,832.5 673.5,830 659.5,829 645.5,828.5 633.5,829.5 617.5,832.5 583.5,842.5 547.5,849.5 533.5,851.5 513.5,852 507.5,852.5 501.5,855.5 484.5,868.5 471.5,875 463.5,877.5 449.5,878 443.5,879 437.5,881.5 425.5,889 419.5,892 411.5,894 393.5,897 385.5,897 369.5,894.5 359.5,892 353,888.5 333.5,875 319.5,867.5 277.5,850 259.5,844.5 227.5,837.5 207.5,835.5 167.5,835.5 143.5,838 143.5,212.5ZM396,668.5 377.5,669.5 361.5,671.5 349.5,675 339.5,680.5 332.5,686.5 327.5,694.5 321.5,707.5 315,726.5 309.5,746.5 307,762.5 307.5,774.5 310,786.5 315,796.5 323.5,806.5 335.5,815.5 349.5,822 389.5,832 431.5,841.5 441.5,840 457.5,833 463.5,831.5 483.5,833.5 491.5,833 495.5,831.5 498.5,828.5 511.5,806.5 515.5,802.5 519.5,799.5 531.5,794 555.5,789 565.5,786 575.5,781.5 585.5,774.5 594,766.5 600.5,758.5 605.5,750.5 610,740.5 612,732.5 611.5,724.5 608.5,718.5 603.5,714.5 527.5,686 515.5,682.5 501.5,679.5 453.5,671 417.5,668.5Z"/>
<path fill="#F0D4A0" d="M145.5,212.5 1530,212.5 1530,689.5 1489.5,694 1473.5,696.5 1449.5,702 1433.5,707.5 1420.5,714.5 1408,724.5 1401.5,731.5 1390,748.5 1388,750.5 1385.5,751.5 1383,750.5 1380.5,748.5 1365.5,730.5 1359.5,726 1351.5,722 1339.5,719 1313.5,716 1273.5,706.5 1241.5,704 1193.5,706.5 1169.5,705 1131.5,704.5 1093.5,700.5 981.5,683.5 943.5,679.5 907.5,677.5 897.5,678 885.5,680 871.5,684 865.5,687.5 859.5,691.5 832.5,718.5 827.5,724.5 821,734.5 816,748.5 812,768.5 812,776.5 813.5,790.5 819,818.5 817.5,824.5 813.5,832 811,834.5 805.5,838.5 791.5,846 781.5,849.5 767.5,851 755.5,849.5 745,846.5 735.5,841.5 713.5,828.5 695.5,821.5 675.5,817 649.5,814.5 633.5,815 621.5,817 613.5,820 587.5,832 541.5,842.5 529.5,843.5 517.5,841 513.5,839 511.5,836.5 509.5,832.5 508.5,826.5 509,820.5 510.5,816.5 514,808.5 517,804.5 525.5,799.5 531.5,797.5 543.5,796 561.5,795.5 569.5,793.5 577.5,791 585.5,787 592,782.5 599.5,776 607,768.5 611,762.5 615,754.5 618.5,744.5 620.5,736.5 621,730.5 620,726.5 618,722.5 615,718.5 609.5,714 599.5,708.5 529.5,683 511.5,677.5 447.5,665.5 407.5,663.5 381.5,664 361.5,665 345.5,668 334,672.5 327.5,678.5 321.5,689 305.5,740.5 301,762.5 300,772.5 301.5,782.5 303.5,790.5 307,798.5 313,806.5 319.5,812.5 331.5,820 343.5,825.5 411.5,840 431.5,847.5 435.5,847.5 439.5,846.5 461.5,835 465.5,835 471.5,836.5 484.5,842.5 487.5,844.5 490,848.5 490.5,852.5 488.5,856.5 485.5,860 479.5,864.5 471.5,870 463.5,873 447.5,870.5 441.5,871 435.5,874 423.5,886.5 419.5,889 403.5,893 392.5,894.5 385.5,894.5 369.5,892.5 359.5,890 347.5,881.5 337.5,873.5 327.5,867.5 315.5,861.5 295.5,854 273.5,840.5 263.5,837 249.5,834 231.5,827.5 219.5,825.5 197.5,824 161.5,824.5 143.5,827.5 143.5,212.5Z"/>
<path fill="#A8B858" d="M145.5,212.5 1530,212.5 1530,684.5 1525.5,684.5 1519.5,686 1505.5,686.5 1499.5,688 1487.5,688.5 1481.5,690.5 1473.5,691 1433.5,701.5 1417.5,709.5 1405.5,719 1398,726.5 1389.5,740 1385.5,744.5 1381.5,740 1371.5,725 1355.5,714 1347.5,713 1315.5,712.5 1275.5,701 1257.5,700.5 1251.5,699 1243.5,699 1227.5,699 1221.5,700.5 1207.5,701 1197.5,702.5 1181.5,702.5 1173.5,701 1131.5,700.5 1125.5,699 1111.5,698.5 1105.5,696.5 1095.5,696.5 1089.5,694.5 1081.5,694.5 1075.5,692.5 1069.5,692.5 1063.5,690.5 1041.5,688 1023.5,684.5 1001.5,682 983.5,678.5 971.5,678 965.5,676.5 951.5,676 943.5,674.5 921.5,674 913.5,672.5 895.5,673 889.5,674.5 883.5,675 873.5,677.5 859.5,685 851,694.5 825.5,720.5 817.5,732.5 812,748.5 808,766.5 808,770.5 808,778.5 809,784.5 809.5,792.5 815.5,818.5 815.5,821 813.5,825 809.5,831 793.5,840 783.5,843.5 769.5,846 755.5,843.5 745.5,839.5 735.5,832.5 719.5,818 699.5,808.5 689.5,805.5 681.5,805 649.5,799 639.5,798.5 631.5,796.5 615.5,797.5 607.5,799.5 595.5,810 584,818.5 577.5,819 575.5,820.5 563.5,820.5 560,822.5 549.5,822.5 547.5,824.5 545.5,824.5 543.5,826.5 541.5,826.5 539.5,828.5 535.5,829.5 533.5,829.5 531.5,828.5 525.5,828.5 523,822.5 521.5,821 521.5,816.5 523.5,814.5 523.5,812.5 525.5,812 527,810.5 529.5,810 535,806.5 543.5,806.5 545.5,808.5 551.5,808.5 553.5,810 555.5,810.5 569.5,810.5 571.5,810 573,808.5 579.5,808 585.5,806 593.5,800.5 595.5,800 599.5,796.5 610.5,784.5 615.5,780 623,770.5 631.5,739.5 643.5,724 642,722.5 639.5,722 601.5,705 557.5,689.5 521.5,675 511.5,672.5 451.5,661 427.5,660.5 421.5,659 415.5,658.5 335.5,659.5 321.5,662.5 317.5,664.5 315,672.5 313.5,688.5 311,702.5 299,744.5 292.5,770.5 293.5,790.5 296,800.5 302,810.5 307.5,816.5 313.5,820 329.5,827.5 343.5,832.5 361.5,833 401.5,841.5 411.5,844 421,848.5 423,850.5 425,854.5 427.5,868.5 426.5,872.5 419.5,884.5 411.5,887.5 389.5,891.5 369.5,889.5 359.5,887 348.5,878.5 337.5,868.5 327.5,862 315.5,855.5 305.5,852.5 297.5,848.5 281.5,833 263.5,825 251.5,826.5 235.5,812.5 231.5,812 217.5,814.5 199.5,811.5 179.5,814.5 159.5,811.5 143.5,816.5 143.5,212.5ZM463.5,838.5 467.5,839.5 475.5,845 483,852.5 482,854.5 471.5,864.5 463.5,868.5 457.5,866 453.5,863 444,854.5 444,852.5 451.5,845 459.5,839.5Z"/>
<path fill="#6AA016" d="M145.5,212.5 1530,212.5 1530,678.5 1487.5,684 1471.5,686.5 1439.5,695.5 1431,698.5 1417.5,705.5 1393.5,721.5 1389.5,723.5 1385.5,724 1381.5,723.5 1377.5,722 1355.5,710 1315.5,708 1275.5,697.5 1245.5,695 1227.5,695.5 1193.5,699 1183.5,698.5 1173.5,697.5 1137.5,696.5 1097.5,691.5 1025.5,680 965.5,672 945.5,670 911.5,668 895.5,668.5 881.5,671 869.5,674.5 861.5,678.5 856,682.5 831.5,707.5 821,720.5 816,728.5 813.5,734.5 805.5,766.5 805,780.5 806.5,816.5 806,822.5 803.5,826.5 801.5,828.5 795.5,832 783.5,836 771.5,838 759.5,836.5 747.5,832.5 737.5,827 721,814.5 700.5,804.5 657.5,793 651.5,790.5 645.5,786.5 642,782.5 639,776.5 638,770.5 638,762.5 639.5,752.5 642,742.5 649.5,727 650.5,722.5 649.5,720.5 645.5,718 613.5,704 523.5,671 503.5,666 463.5,658.5 451.5,657 417.5,655 365.5,655 335.5,656 319.5,659 315.5,661 312.5,664.5 308.5,676.5 307,696.5 305,708.5 289,770.5 286.5,784.5 282,796.5 279.5,800.5 275.5,804 267.5,808 259.5,809 251.5,808.5 233.5,805 217.5,806 199.5,805.5 177.5,808 159.5,805.5 153.5,806.5 143.5,810 143.5,212.5ZM351.5,840.5 359.5,840 371.5,841.5 399.5,847 409,850.5 414.5,854.5 418.5,860.5 419.5,866.5 418.5,872.5 415.5,877 411,880.5 403.5,883 395.5,885 387.5,885.5 375.5,884.5 367.5,882.5 361.5,880.5 351.5,874.5 345.5,869.5 339.5,862.5 336.5,856.5 337,850.5 339.5,846 344,842.5ZM459.5,844.5 465.5,844 469.5,845.5 473.5,848.5 474.5,850.5 475,854.5 471.5,859 467.5,861.5 461.5,862 457.5,860.5 453.5,857 452,854.5 452.5,850.5 455.5,847Z"/>
<path fill="#76AA22" d="M145.5,212.5 1530,212.5 1530,672.5 1483.5,680 1467.5,683 1449.5,688.5 1427.5,696.5 1395.5,715 1385.5,717 1375.5,715.5 1359.5,708.5 1353.5,707 1315.5,704 1303.5,701.5 1277.5,695 1253.5,692 1231.5,692 1191.5,695.5 1143.5,692.5 1113.5,689 1023.5,675 965.5,667 943.5,665 913.5,663.5 897.5,664.5 883.5,666.5 867.5,671.5 859.5,675.5 853.5,679.5 833.5,698.5 819.5,715.5 813,728.5 803.5,766.5 799,810.5 799,816.5 800,822.5 798.5,824.5 793.5,826.5 777.5,831 773.5,831.5 761.5,829.5 745.5,825 737.5,821 720,810.5 703.5,802.5 674.5,792.5 655,784.5 652,780.5 647.5,764.5 651,746.5 650.5,738.5 653.5,724.5 652.5,720.5 649.5,716.5 641.5,711.5 605.5,695 573.5,683 525.5,666.5 505.5,662 465.5,655 449.5,653 415.5,651 367.5,651 337.5,652.5 321.5,655.5 314.5,658.5 310.5,662.5 304.5,672.5 302,682.5 303,694.5 301,708.5 296,734.5 288,766.5 281.5,780.5 276,788.5 272.5,792.5 267.5,795 255.5,797.5 203.5,799.5 175.5,802.5 169.5,802 163.5,799.5 157.5,799 151.5,800.5 143.5,803.5 143.5,212.5ZM355.5,846.5 369.5,847.5 403.5,854.5 409.5,857.5 412.5,860.5 414.5,864.5 414.5,868.5 412.5,872.5 409.5,875 403.5,877.5 397.5,879 389.5,879.5 381.5,879 373.5,878 365.5,875.5 357.5,872 351.5,868 345.5,862.5 343.5,858.5 343.5,854.5 345.5,850.5 349.5,848ZM459.5,848 465.5,847.5 469.5,849 471.5,850.5 472,852.5 471.5,854.5 469.5,856.5 465.5,858 461.5,858 457.5,856.5 455.5,854.5 455,852.5 455.5,850.5Z"/>
<path fill="#82B430" d="M145.5,212.5 1530,212.5 1530,666 1485.5,674.5 1453.5,683 1429.5,692 1397.5,709.5 1391.5,711.5 1385.5,712 1375.5,711 1353.5,703.5 1313.5,700.5 1277.5,691.5 1259.5,689 1235.5,688 1191.5,692 1153.5,689.5 1117.5,685.5 1023.5,670 963.5,662 941.5,660 915.5,659 899.5,659.5 885.5,662 867.5,667 859.5,670.5 851.5,675.5 834,690.5 820,706.5 814,716.5 811,724.5 808,740.5 801,766.5 795.5,794 790,810.5 786,816.5 781.5,820 775.5,822 767.5,822.5 753.5,821 741.5,818 705.5,800.5 677,788.5 664,780.5 659,774.5 655.5,764.5 655.5,756.5 657,746.5 656,738.5 656.5,724.5 655.5,720.5 653.5,716.5 647.5,710.5 639.5,705.5 623.5,697 603.5,688.5 569.5,675.5 529.5,662.5 507.5,657.5 473.5,651.5 449.5,648.5 417.5,647 371.5,647.5 341.5,649 325.5,651.5 315.5,655 310,658.5 302.5,666.5 294.5,678.5 285.5,706.5 273.5,732.5 262.5,748.5 257,754.5 249.5,761 233.5,770 213.5,778 183.5,786.5 157.5,790.5 143.5,796 143.5,212.5ZM461.5,850 467,850.5 469.5,852.5 467.5,854.5 459.5,854.5 457.5,852.5 459.5,850.5ZM351.5,852 361.5,852 401.5,859.5 409.5,863 411.5,866.5 411,868.5 407.5,871.5 399.5,873.5 385.5,874 373.5,872.5 359.5,867.5 349.5,861.5 347.5,858.5 347,856.5 347.5,854.5Z"/>
<path fill="#90BE42" d="M145.5,212.5 1530,212.5 1530,660 1489.5,668 1455.5,677.5 1431.5,687 1399.5,704.5 1391.5,707 1385.5,708 1375.5,706.5 1351.5,699.5 1311.5,696.5 1277.5,688 1259.5,685 1239.5,684.5 1197.5,688.5 1175.5,688 1135.5,684 1029.5,666 963.5,656.5 939.5,654.5 917.5,654 901.5,655 885.5,657.5 867.5,662.5 851,670.5 835,682.5 819.5,698.5 812.5,708.5 808.5,718.5 807,726.5 806.5,738.5 805.5,744.5 793,786.5 787.5,800 781.5,808 775.5,812.5 767.5,815 757.5,816 745.5,814.5 733.5,810.5 685.5,788 677.5,783.5 671,778.5 664,770.5 661,762.5 660,754.5 660.5,724.5 659,718.5 657,714.5 651.5,708.5 641.5,701 625.5,692 605.5,683 575.5,671.5 535.5,659 513.5,653.5 483.5,648.5 453.5,645 421.5,643.5 377.5,643.5 347.5,645 335.5,646.5 323.5,649 315.5,651.5 307.5,656 286.5,672.5 247.5,708.5 216,734.5 182,760.5 143.5,786.5 143.5,212.5ZM351.5,856 357,856.5 379.5,862.5 402.5,864.5 408,866.5 405.5,867.5 399.5,868.5 378.5,868.5 365.5,864.5 355.5,860.5 351.5,858.5 351,856.5Z"/>
<path fill="#9ECA52" d="M145.5,212.5 1530,212.5 1530,653.5 1491.5,662 1453.5,674 1431.5,683 1399.5,701 1391.5,703.5 1385.5,704 1375.5,703 1357.5,697.5 1349.5,695.5 1317.5,694 1307.5,692.5 1277.5,684.5 1261.5,681.5 1239.5,680.5 1197.5,685 1175.5,684.5 1139.5,680.5 1037.5,662 965.5,652 939.5,649.5 919.5,649 901.5,650 885.5,653 865.5,658.5 848.5,666.5 831.5,678.5 817.5,692.5 810,702.5 805,712.5 803.5,722.5 805,736.5 804,742.5 793.5,774.5 786,792.5 780,800.5 773.5,806 763.5,809.5 753.5,810.5 741.5,809 725.5,803 691,786.5 683.5,782 676,776.5 669,768.5 664.5,758.5 663.5,752.5 663,744.5 665,724.5 663,716.5 659.5,710.5 652,702.5 641.5,695 623.5,685 605.5,676.5 577.5,666.5 539.5,654.5 517.5,649.5 489.5,645 455.5,641 427.5,639.5 379.5,640 351.5,641.5 333.5,643.5 317.5,647.5 307.5,652 297.5,658.5 279.5,664.5 265.5,668 241,676.5 231.5,680.5 208,692.5 194,702.5 189.5,707 175.5,726.5 172.5,732.5 156.5,756.5 143.5,772.5 143.5,212.5Z"/>
<path fill="#ACD564" d="M145.5,212.5 1530,212.5 1530,647 1493.5,656 1451.5,670 1431.5,678.5 1399.5,697.5 1393.5,700 1385.5,700.5 1375.5,699.5 1357.5,693.5 1349.5,692 1317.5,690.5 1307.5,689.5 1275.5,680 1261.5,677.5 1239.5,677 1197.5,682 1177.5,681.5 1145.5,677.5 1045.5,658.5 967.5,647 943.5,644.5 923.5,644 905.5,645 887.5,647.5 865.5,653.5 845.5,662.5 828,674.5 813,688.5 804.5,700.5 800,710.5 798.5,716.5 798.5,722.5 803,734.5 803,740.5 795.5,762.5 785.5,785 779.5,794 771.5,801 761.5,805 749.5,806 737.5,804.5 719.5,797.5 691.5,782.5 679.5,774 671.5,763.5 667,752.5 666,744.5 670,730.5 670.5,724.5 669,716.5 665,708.5 657.5,700.5 645.5,691.5 627.5,681 609.5,672 585.5,663 547.5,651 525.5,645.5 503.5,642 463.5,637 437.5,635.5 383.5,636 357.5,637 335.5,640 315.5,645 293.5,654.5 263.5,663 239.5,671.5 223.5,678 205.5,687.5 191.5,697.5 184.5,704.5 174.5,718.5 152.5,752.5 143.5,764 143.5,212.5Z"/>
<path fill="#C0E07C" d="M145.5,212.5 1530,212.5 1530,640 1493.5,650 1445.5,667.5 1429.5,675 1401.5,693.5 1393.5,697 1387.5,697.5 1377.5,696.5 1357.5,689.5 1349.5,688 1317.5,687.5 1305.5,686 1277.5,676.5 1263.5,673.5 1239.5,673 1197.5,678.5 1177.5,678 1145.5,674 1043.5,653 967.5,641.5 943.5,639.5 923.5,638.5 905.5,640 887.5,643 861.5,650 841.5,658.5 823.5,670.5 807.5,685.5 797,700.5 792,712.5 791.5,718.5 793,724.5 795,728.5 800.5,734.5 801.5,738.5 797.5,752 789.5,770 779.5,787 775.5,792 771.5,795.5 765.5,798.5 759.5,800.5 745.5,802.5 733.5,800 715.5,792.5 691.5,778.5 682,770.5 673.5,759 670.5,752.5 668.5,746.5 669,742.5 675,734.5 677.5,726.5 677,718.5 672.5,708.5 663.5,698.5 651.5,689 629.5,675.5 611.5,666.5 591,658.5 551.5,646.5 531.5,641.5 511.5,638 479.5,634.5 441.5,631.5 419.5,631 363.5,633 337.5,636 315.5,641 291.5,650 263.5,658 247.5,663.5 225.5,672.5 207.5,681.5 191.5,692 181.5,702 171.5,715.5 148,750.5 143.5,756.5 143.5,212.5Z"/>
<path fill="#CEEC92" d="M145.5,212.5 1530,212.5 1530,633.5 1495.5,643.5 1441.5,664.5 1427.5,671.5 1399.5,691.5 1393.5,694 1387.5,695 1377.5,693 1359.5,685.5 1351.5,683.5 1343.5,683 1317.5,684 1305.5,683 1277.5,672.5 1265.5,669.5 1251.5,669 1237.5,669 1199.5,675.5 1187.5,676 1171.5,674.5 1151.5,671 1077.5,654.5 1043.5,648 965.5,636 941.5,634 921.5,633 907.5,634 889.5,637.5 861.5,644.5 839.5,653.5 829.5,659 819,666.5 809.5,674.5 801.5,682.5 793.5,692.5 788,700.5 784,708.5 782,716.5 782.5,724.5 785.5,730.5 789.5,733.5 797.5,735 799.5,736.5 799.5,740.5 796.5,748.5 789.5,764.5 779.5,781 771.5,790.5 767.5,793 759.5,796 743.5,799 729.5,795 715.5,789 695,776.5 685.5,769 675.5,755.5 671,746.5 671.5,743.5 679,740.5 683.5,737.5 686,734.5 687.5,730.5 688,726.5 687.5,720.5 685.5,714.5 682.5,708.5 675.5,700.5 663,690.5 635.5,672 615.5,661 597.5,654.5 553.5,641 537.5,637 517.5,633.5 485.5,630 445.5,627 421.5,627 367.5,629 337.5,632.5 311.5,639 257.5,655 227.5,667 209.5,675.5 191.5,686.5 179.5,697.5 172.5,706.5 143.5,748.5 143.5,212.5Z"/>
<path fill="#DCF8A8" d="M145.5,212.5 1530,212.5 1530,626.5 1495.5,637.5 1433.5,663 1425.5,667.5 1407.5,682.5 1399,688.5 1395.5,690.5 1389.5,692.5 1377.5,690 1359.5,680.5 1353.5,678.5 1347.5,678.5 1317.5,681.5 1305.5,680.5 1297.5,677.5 1279.5,668.5 1269.5,665.5 1253.5,664.5 1235.5,665 1197.5,673 1187.5,673 1159.5,669.5 1071.5,648 1039.5,642 1001.5,636 961.5,630.5 925.5,627.5 917.5,627.5 899.5,630 865.5,638 841.5,646.5 823.5,655.5 806,668.5 790,684.5 774,704.5 763,722.5 747.5,757.5 743.5,763 739.5,765.5 737.5,766 735.5,766 731.5,763.5 727.5,759 708,722.5 701,712.5 691,702.5 681,694.5 635.5,665.5 621.5,656.5 613.5,653 543.5,632.5 517.5,628 449.5,623 421.5,623 405.5,624 367.5,625 349.5,627 329.5,630.5 263.5,648 227.5,662 209,670.5 189.5,682.5 176,694.5 170,702.5 152.5,728.5 143.5,741 143.5,212.5Z"/>
<path fill="#A0D0A8" d="M145.5,212.5 1530,212.5 1530,619.5 1493.5,631.5 1457.5,648 1429.5,659 1423.5,662.5 1404,680.5 1395.5,686.5 1389.5,688.5 1379.5,686.5 1375.5,685 1361.5,675 1355.5,672 1347.5,672.5 1335.5,676 1323.5,676 1317.5,677.5 1307.5,677.5 1300,674.5 1283.5,665 1275.5,661.5 1267.5,660.5 1233.5,660.5 1195.5,669.5 1189.5,669.5 1183.5,668.5 1173.5,668 1161.5,666 1145.5,662 1121.5,655 1071.5,643 1041.5,637 1021.5,634.5 989.5,629 981.5,628.5 963.5,625 951.5,624.5 945.5,623.5 931.5,623 925.5,621.5 917.5,621.5 897.5,625 865.5,633 849.5,637.5 833.5,643 821.5,649.5 800,664.5 777.5,686.5 765.5,696 755.5,702.5 745.5,706 741.5,706.5 717.5,700.5 673.5,682 661.5,675.5 623.5,649.5 619.5,647.5 583.5,638 539.5,625 527.5,624.5 519.5,623 497.5,622.5 491.5,621 467.5,620.5 457.5,618.5 417.5,618.5 405.5,620.5 365.5,621 359.5,622.5 349.5,622.5 343.5,624 335.5,625 261.5,643 209.5,665 201.5,669 185.5,679 173.5,690.5 168.5,696.5 149,726.5 143.5,732.5 143.5,212.5Z"/>
<path fill="#38869E" d="M145.5,212.5 1530,212.5 1530,614.5 1491.5,627.5 1457.5,642.5 1427.5,654.5 1399.5,671.5 1391.5,674 1385.5,674.5 1375.5,673.5 1355.5,666.5 1329.5,669 1317.5,669 1309.5,668.5 1299.5,665.5 1279.5,657.5 1269.5,656 1235.5,655.5 1195.5,662 1175.5,661.5 1153.5,658 1081.5,641 1043.5,633.5 963.5,622 933.5,619.5 925.5,618.5 916.5,618.5 895.5,622 863.5,629 843.5,634.5 829.5,640 819.5,644.5 805.5,653.5 796.5,660.5 775.5,679 763.5,687.5 751.5,693 741.5,694.5 733.5,694 721.5,691 675.5,674.5 659.5,666.5 628,646.5 619.5,642 541.5,621 521.5,619 457.5,615 417.5,615 401.5,616.5 365.5,617 335.5,621 293.5,630 261.5,638 251.5,641 211.5,658 189.5,670.5 177.5,680.5 165,694.5 147.5,720.5 143.5,726 143.5,212.5Z"/>
<path fill="#1A72A2" d="M145.5,212.5 1530,212.5 1530,609.5 1489.5,624 1425.5,650 1401.5,661.5 1391.5,664 1383.5,665 1375.5,664.5 1353.5,661 1327.5,662 1313.5,661 1303.5,659 1279.5,652.5 1263.5,650.5 1235.5,650.5 1195.5,655.5 1173.5,654.5 1151.5,651.5 1078.5,636.5 1043.5,630.5 963.5,619.5 925.5,616 915.5,616.5 893.5,619.5 863.5,625.5 841.5,631 823.5,637.5 815.5,641 803.5,648.5 773.5,673 763.5,680 751.5,685 743.5,686.5 735.5,685.5 723.5,683 677.5,667.5 661.5,660 631.5,642.5 619.5,637 601.5,632 543.5,617.5 519.5,614.5 455.5,611 421.5,611 365.5,613.5 331.5,617.5 271.5,630 249,636.5 213.5,651 193.5,662 177.5,674.5 163.5,690 143.5,718.5 143.5,212.5Z"/>
<path fill="#2A7EAE" d="M145.5,212.5 1530,212.5 1530,604.5 1499.5,615.5 1455.5,633.5 1405.5,652.5 1393.5,656 1381.5,657 1353.5,655 1317.5,654 1305.5,652.5 1279.5,647 1261.5,645 1237.5,645.5 1195.5,649 1173.5,648.5 1151.5,645.5 1073.5,632 1033.5,626 947.5,615.5 925.5,614 913.5,614 891.5,617 863.5,621.5 843,626.5 819.5,633 801.5,643 775.5,663.5 761.5,673 745.5,679 729.5,675.5 677.5,659.5 655.5,650 633.5,637.5 619.5,632 597.5,626 545.5,613.5 519.5,610.5 453.5,607.5 421.5,607.5 361.5,610 327.5,614 269.5,625 239.5,634 213.5,644.5 193.5,655.5 177.5,668 162.5,684.5 143.5,711.5 143.5,212.5Z"/>
<path fill="#3A8CBC" d="M145.5,212.5 1530,212.5 1530,600 1441.5,634 1405.5,646 1395.5,648.5 1385.5,649.5 1371.5,650 1321.5,647.5 1279.5,641.5 1261.5,640 1239.5,640 1197.5,643 1173.5,642 1147.5,639 1053.5,625 1009.5,619.5 947.5,613 917.5,611.5 895.5,613 867.5,617 843.5,622 819.5,628.5 811.5,631.5 799.5,637.5 775.5,652 763.5,658 751.5,662 739.5,663.5 719.5,661 689.5,654 667.5,646.5 636,632.5 619.5,626.5 575.5,616 541.5,609 515.5,606 451.5,603.5 421.5,603.5 357.5,606.5 323.5,610 269.5,619.5 237.5,629 215.5,637 195.5,647.5 178,660.5 161.5,679 143.5,704 143.5,212.5Z"/>
<path fill="#4A9AC6" d="M145.5,212.5 1530,212.5 1530,595 1463.5,621 1441.5,629 1405.5,639.5 1383.5,643 1367.5,643.5 1327.5,641.5 1279.5,635.5 1261.5,634.5 1241.5,634.5 1199.5,637 1173.5,636.5 983.5,614 945.5,610 915.5,609 897.5,610 869.5,613 832,620.5 809.5,627 773.5,643 761.5,647.5 747.5,651 735.5,651.5 715.5,650 691.5,645 671.5,639.5 635.5,626 616.5,620.5 565.5,609 535.5,603.5 509.5,601.5 445.5,599.5 353.5,602.5 321.5,606 269.5,614 255.5,617 217.5,629 197.5,639 175.5,654 162.5,668.5 143.5,695 143.5,212.5Z"/>
<path fill="#5CA8D0" d="M145.5,212.5 1530,212.5 1530,590 1467.5,615 1439.5,625 1403.5,634.5 1389.5,636.5 1375.5,637 1331.5,635.5 1281.5,630 1263.5,629 1243.5,629 1201.5,631 1173.5,630.5 1111.5,624.5 981.5,611 943.5,607.5 913.5,606.5 873.5,609 843.5,613.5 811.5,621 773.5,634.5 759.5,638.5 743.5,641 727.5,641.5 709.5,639.5 689.5,636 671.5,631.5 633.5,619.5 613.5,614.5 563.5,604 533.5,599 511.5,597.5 445.5,596 355.5,598.5 323.5,601.5 269.5,608.5 253.5,611.5 219.5,621 199.5,629 181,638.5 166.5,648.5 143.5,666.5 143.5,212.5Z"/>
<path fill="#70B8DC" d="M145.5,212.5 1530,212.5 1530,584.5 1473.5,608.5 1441.5,620 1421.5,625 1403.5,628.5 1389.5,630.5 1375.5,631 1337.5,629.5 1265.5,623 1245.5,623 1203.5,625.5 1177.5,625 1099.5,619 949.5,605.5 911.5,604 873.5,605.5 851.5,608 815.5,615 759.5,629.5 743.5,631.5 727.5,632 709.5,630.5 687.5,627 609.5,608 555.5,598 529.5,594 511.5,593 441.5,592 355.5,594.5 325.5,596.5 273,602.5 253.5,605.5 227.5,611.5 207.5,617 188,624.5 171,632.5 143.5,648 143.5,212.5Z"/>
<path fill="#86C8E6" d="M145.5,212.5 1530,212.5 1530,579.5 1477.5,602.5 1445.5,614 1431.5,618 1413.5,621.5 1399.5,624 1385.5,625 1349.5,624 1265.5,617 1247.5,617.5 1207.5,620 1183.5,619.5 1093.5,614.5 949.5,602.5 909.5,601 873.5,602 857.5,603.5 815.5,610 761.5,621 743.5,623 725.5,623 703.5,621.5 679.5,618 609.5,603 533.5,590 517.5,589 437.5,588 333.5,591.5 255.5,599 225.5,604.5 199.5,611 177.5,618.5 143.5,632.5 143.5,212.5Z"/>
<path fill="#9ED6F0" d="M145.5,212.5 1530,212.5 1530,574.5 1476,598.5 1445.5,610 1419.5,615.5 1401.5,618 1387.5,619 1351.5,618 1303.5,613.5 1267.5,611 1251.5,611.5 1201.5,614.5 1149.5,611.5 1095.5,610.5 1029.5,606.5 949.5,600 907.5,598.5 861.5,599 815.5,604.5 763.5,613 743.5,614.5 725.5,614.5 697.5,612.5 675.5,610 607.5,597.5 531.5,585 521.5,584.5 445.5,584.5 331.5,587.5 255.5,593 225.5,597.5 197.5,603 175.5,608.5 143.5,618.5 143.5,212.5Z"/>
<path fill="#98C0EC" d="M145.5,212.5 1530,212.5 1530,569 1475.5,594.5 1443.5,606 1421.5,610.5 1391.5,613.5 1377.5,613.5 1349.5,612 1307.5,607.5 1269.5,605 1253.5,605 1211.5,609.5 1199.5,609.5 1155.5,606.5 1137.5,606 1119.5,607 1075.5,606 1059.5,604.5 1027.5,603.5 1017.5,602 997.5,601 987.5,599.5 961.5,599 951.5,597.5 921.5,596.5 911.5,595.5 883.5,595.5 871.5,594.5 857.5,595 767.5,605.5 745.5,606.5 725.5,606.5 675.5,603 567.5,586.5 531.5,580 523.5,579.5 505.5,580.5 423.5,580.5 403.5,582 329.5,583 305.5,585 255.5,587 199.5,593.5 177.5,597.5 143.5,605.5 143.5,212.5Z"/>
<path fill="#5858B8" d="M145.5,212.5 1530,212.5 1530,563 1473.5,590.5 1449.5,599.5 1435.5,604 1427.5,604.5 1421.5,606 1407.5,606.5 1401.5,608 1397.5,608.5 1379.5,608 1371.5,606.5 1349.5,606 1343.5,604.5 1333.5,604 1327.5,602.5 1317.5,602 1311.5,600.5 1285.5,600 1275.5,598.5 1249.5,598.5 1243.5,600 1233.5,600.5 1227.5,602 1217.5,602.5 1207.5,604 1197.5,604 1191.5,602.5 1173.5,602 1163.5,600.5 1133.5,600.5 1121.5,602 1075.5,602 1063.5,600.5 1029.5,600 1021.5,598.5 997.5,597.5 987.5,596 961.5,595.5 953.5,594 923.5,593.5 913.5,592 883.5,591.5 873.5,590 855.5,590.5 849.5,592 833.5,592.5 827.5,594 807.5,594.5 799.5,596 777.5,596.5 769.5,598.5 723.5,598.5 713.5,596.5 675.5,596 669.5,594.5 659.5,594 653.5,592.5 645.5,592 639.5,590.5 629.5,590 623.5,588.5 615.5,588 609.5,586.5 599.5,585.5 579.5,582 569.5,581.5 531.5,574 525.5,574 517.5,574 507.5,575.5 417.5,576 405.5,577.5 321.5,578 315.5,578.5 307.5,580 249.5,580.5 241.5,582 221.5,582.5 215.5,584.5 199.5,584.5 191.5,586.5 177.5,587 171.5,588.5 143.5,593 143.5,212.5Z"/>
<path fill="#2A1098" d="M145.5,212.5 1530,212.5 1530,555 1513.5,561 1467.5,583.5 1437.5,595 1425.5,597.5 1417.5,598 1395.5,601.5 1367.5,599.5 1361.5,598.5 1349.5,598 1343.5,596.5 1333.5,596 1327.5,594.5 1317.5,594 1309.5,592.5 1247.5,592.5 1239.5,594 1221.5,594.5 1215.5,596 1205.5,596 1185.5,596 1179.5,594.5 1167.5,594 1035.5,593.5 1025.5,592 1011.5,591.5 1005.5,590 991.5,589.5 985.5,588 933.5,588 925.5,586.5 911.5,586 905.5,584.5 885.5,584 873.5,582.5 855.5,582.5 849.5,583.5 833.5,584 825.5,585.5 807.5,586 799.5,587.5 777.5,588 769.5,589.5 751.5,589.5 743.5,588 723.5,588 715.5,586 695.5,585.5 689.5,584.5 671.5,584 665.5,582.5 651.5,581.5 645.5,580.5 631.5,579.5 625.5,578 617.5,577.5 579.5,568.5 571.5,568 565.5,566.5 551.5,566 545.5,564.5 539.5,564 531.5,561 527.5,560.5 501.5,564 479.5,564 469.5,565.5 429.5,566 419.5,567.5 387.5,568 379.5,569.5 319.5,569.5 305.5,571.5 249.5,572 241.5,573.5 221.5,574 215.5,575.5 199.5,576 191.5,577.5 177.5,578 143.5,583.5 143.5,212.5Z"/>
<path fill="#3822A6" d="M145.5,212.5 1530,212.5 1530,541.5 1483.5,564 1451.5,577.5 1437.5,580.5 1427.5,581 1421.5,582.5 1399.5,584.5 1377.5,584.5 1369.5,583 1329.5,582.5 1321.5,581 1303.5,580.5 1279.5,580.5 1269.5,582.5 1229.5,582.5 1219.5,584.5 1179.5,584.5 1169.5,582.5 1129.5,582.5 1119.5,581 1091.5,580.5 1085.5,579 1071.5,578.5 1065.5,577 1051.5,576.5 1045.5,575 1031.5,574.5 1025.5,573.5 1011.5,572.5 1003.5,571 955.5,571 941.5,572.5 895.5,572.5 887.5,571 877.5,570.5 871.5,569 861.5,568.5 855.5,567 845.5,566.5 835.5,565 801.5,565 789.5,566.5 743.5,566.5 733.5,565 703.5,564.5 695.5,563 673.5,562.5 667.5,561 657.5,560.5 651.5,559 641.5,558.5 635.5,557 609.5,554.5 541.5,543 531.5,542.5 525.5,541 511.5,540.5 503.5,539 453.5,539 441.5,537 387.5,537 377.5,539 351.5,539 341.5,541 315.5,541.5 305.5,543 277.5,543.5 271.5,545 253.5,545.5 247.5,547 225.5,549.5 205.5,552.5 195.5,553.5 189.5,554.5 181.5,555 175.5,556.5 167.5,557 161.5,558.5 143.5,561 143.5,212.5Z"/>
<path fill="#4630B2" d="M145.5,212.5 1530,212.5 1530,530.5 1485.5,550.5 1459.5,560.5 1441.5,566 1419.5,569.5 1389.5,572 1315.5,570 1293.5,570 1203.5,575 1185.5,574.5 1097.5,569.5 1001.5,562 961.5,562 927.5,563 901.5,562.5 843.5,554.5 827.5,553 759.5,553.5 705.5,551 671.5,548.5 613.5,542.5 541.5,532.5 505.5,528 419.5,523.5 385.5,524 277.5,531.5 245.5,535 143.5,548 143.5,212.5Z"/>
<path fill="#563CBE" d="M145.5,212.5 1530,212.5 1530,520 1489.5,537.5 1459.5,548.5 1441.5,553.5 1415.5,558 1401.5,559.5 1387.5,560 1297.5,559.5 1201.5,565.5 1007.5,553.5 901.5,553.5 889.5,552 847.5,544 831.5,541.5 813.5,541 749.5,540.5 671.5,536.5 597.5,529.5 501.5,516.5 407.5,510 377.5,511 271.5,520.5 143.5,536.5 143.5,212.5Z"/>
<path fill="#684ECA" d="M145.5,212.5 1530,212.5 1530,509 1501.5,521.5 1451.5,539.5 1403.5,548 1291.5,548 1283.5,549.5 1265.5,550.5 1257.5,552 1239.5,552 1233.5,553.5 1215.5,554 1209.5,555.5 1203.5,556 1189.5,555.5 1183.5,554 1165.5,553.5 1157.5,552 1139.5,551.5 1133.5,550.5 1115.5,550 1109.5,548.5 1079.5,548 1069.5,546.5 1029.5,546 1019.5,544 897.5,543.5 835.5,529 743.5,528.5 735.5,527 703.5,526.5 695.5,524.5 671.5,524.5 663.5,522.5 641.5,522 635.5,520.5 617.5,520 609.5,518.5 595.5,518 589.5,516.5 581.5,516 561.5,512.5 551.5,512 545.5,510.5 523.5,508 517.5,506.5 509.5,506 503.5,504.5 491.5,504 485.5,502.5 471.5,502 465.5,500.5 451.5,500 445.5,498.5 431.5,498 425.5,496.5 411.5,496.5 403.5,495 393.5,495 387.5,496.5 375.5,497 369.5,498.5 357.5,499 351.5,500.5 339.5,501 333.5,502.5 323.5,503 317.5,504.5 287.5,507 281.5,508.5 269.5,509 263.5,510.5 251.5,511 245.5,512.5 235.5,513 229.5,514.5 219.5,514.5 213.5,516.5 203.5,516.5 197.5,518 187.5,518.5 181.5,520 171.5,520.5 165.5,522 155.5,522.5 149.5,524 143.5,524.5 143.5,212.5Z"/>
<path fill="#7B68D6" d="M145.5,212.5 1530,212.5 1530,498.5 1493.5,509.5 1461.5,517.5 1437.5,522 1411.5,525.5 1379.5,527.5 1293.5,528 1199.5,531.5 1015.5,526 913.5,525 891.5,523.5 833.5,516.5 755.5,515.5 705.5,513 651.5,508.5 617.5,505 585.5,500.5 527.5,489 437.5,480 417.5,481 381.5,487.5 347.5,492 143.5,510.5 143.5,212.5Z"/>
<path fill="#8F7EE2" d="M145.5,212.5 1530,212.5 1530,488.5 1499.5,494.5 1459.5,501 1417.5,505 1383.5,506.5 1303.5,506 1171.5,508.5 1107.5,508.5 923.5,507 829.5,503.5 759.5,503 675.5,497.5 633.5,492.5 603.5,488 583.5,484 569.5,480 547.5,472 535.5,469 521.5,467.5 485.5,467 473.5,465.5 447.5,460 435.5,459 425.5,460 417.5,462.5 397.5,473.5 389.5,477 379.5,479.5 365.5,482 267.5,490 143.5,496.5 143.5,212.5Z"/>
<path fill="#A594EE" d="M145.5,212.5 1530,212.5 1530,478.5 1525.5,478.5 1519.5,480 1509.5,480.5 1503.5,482 1477.5,482.5 1469.5,484.5 1429.5,484.5 1417.5,486.5 1355.5,486.5 1345.5,485 1337.5,484.5 1185.5,484.5 1177.5,485 1169.5,486.5 1129.5,486.5 1121.5,488 1115.5,488.5 877.5,488.5 869.5,488.5 863.5,490 857.5,490 751.5,489.5 743.5,488 723.5,487.5 715.5,486 695.5,485 689.5,483.5 671.5,483 665.5,481.5 655.5,481 649.5,479.5 643.5,479 637.5,477.5 631.5,477 625.5,475.5 619.5,475 595.5,470.5 574.5,464.5 571.5,462 562,450.5 559.5,448.5 547.5,443 535.5,440.5 531.5,440.5 521.5,442.5 493.5,450.5 485.5,450.5 477.5,448.5 465.5,442.5 453.5,432 445.5,427 429.5,419.5 419.5,417.5 415.5,418 411.5,420 405.5,424 403.5,427 398.5,436.5 395.5,448.5 394.5,456.5 391.5,465 386,468.5 375.5,471.5 363.5,474 347.5,474.5 341.5,476 313.5,476.5 305.5,478 277.5,478.5 269.5,480 207.5,480.5 195.5,482 143.5,482.5 143.5,212.5Z"/>
<path fill="#BCADFC" d="M145.5,212.5 1530,212.5 1530,465 1089.5,465 995.5,464.5 981.5,464 978,462.5 977,452.5 975,446.5 972.5,420.5 970,412.5 969.5,397.5 968,388.5 966.5,382.5 965.5,372.5 953.5,372.5 941.5,372.5 941,378.5 938.5,386.5 937,402.5 935,408.5 934,424.5 931.5,432.5 930,450.5 928,454.5 927.5,460.5 926.5,462.5 925.5,463 914,464.5 901.5,464.5 785.5,464.5 777.5,463 776.5,462.5 775.5,460.5 775,452.5 772.5,444.5 769.5,420.5 767.5,414.5 766,400.5 765.5,388.5 764,386.5 761.5,374.5 755.5,374.5 754,374.5 753.5,375.5 753,380.5 749.5,387.5 745.5,402.5 743.5,406 741.5,402 741,394.5 739,386.5 736.5,380.5 734,372.5 732.5,370.5 671.5,369 437.5,368.5 387.5,369 369.5,371 367.5,382.5 366,388.5 364.5,414.5 362.5,422.5 361.5,446.5 360,450.5 359,458.5 357.5,463 334.5,464.5 143.5,465 143.5,212.5Z"/>
<polygon points="735.5,368.5 742.4,465 749.5,368.5" fill="#BCADFC"/><polygon points="143,1065 152,1071 166,1071 173,1079 198,1079 205,1086 228,1086 237,1094 243,1088 251,1094 340,1094 346,1101 386,1101 392,1095 408,1095 415,1101 720,1101 728,1094 744,1094 758,1080 774,1080 782,1088 782,1094 798,1094 806,1102 836.6,1102 836.6,1110 143,1110" fill="#fff"/>
<path d="M143.5,305.4 165,301.7 202.8,290.4 240.4,272.8 258.8,262.8 278,255 328,245 366,236 391,232.6 416,222.6 441,213.8 466,212.5M480,213 504,218.8 526,220.6 540,218 556,212.6M654,212.6 680,219 710,222 740,230 758,237 766,212.6M820,212.6 832,219 852,225.4 900,224 930,231 950,233.6 965,229 985,217 992,216 1015,224.6 1050,224.6 1080,219 1105,217 1118,219.4 1125,218 1134,213M143.5,427 165,423.4M210,414 258.8,402.9 315.7,393.3 366,384.5 403.6,373.2 441.3,365.7 466.4,355.7 491.5,343 500,341 530,329 580,324 620,321 640,315 680,314 720,312 740,314 760,323 774,328 800,323 820,316 840,315.6 870,313.6 900,315.4 925,322 945,332 957,336.6 975,333.6 993,329M1036,315 1045,316 1070,316 1090,317.4 1107,320.6 1120,317 1133,312.6 1155,310 1180,309.6 1204,313 1215,314 1230,311 1252,308 1270,313 1290,321 1305,321 1318,327 1345,325 1362,318 1375,318 1395,322 1414,324 1432,325 1444,330 1455,340 1470,345 1484,352 1492,357 1505,352 1518,340 1530,326M143.5,550 172.6,531.4 215,511 258.8,491 290.6,473.7 323,458.6 366,456 411,458.6 454,448.6 491.5,442.3 520,439 550,429 600,425 660,415 710,409 736,397 758,382 768,395 782,407 800,404 820,409 838,407.6 850,406.6 860,408 875,414 885,416 900,416 920,413 945,414 957,410 972,403 985,402.6 1000,402.6 1012,405 1030,412 1045,416 1060,416 1075,412 1086,409.6 1102,414.4 1115,411 1127,409 1139,402 1147,410 1155,415 1172,415 1185,420 1195,429 1204,437 1210,441 1213,460 1220,478 1228,487 1250,484 1270,480 1290,483 1305,481 1330,480 1350,490 1364,486 1380,494 1414,500 1440,511 1462,521 1480,532 1500,534 1520,541 1531,538M143.5,662 148,640 160.8,627 181.6,606.4 258.6,581.4 306.4,558.6 348,544 410.4,527.4 472.8,506.6 540,494 600,488 660,486 740,487 754,483M800,488 836,492 864,493 900,491 935,484 950,477 965,468 975,464.6 990,465.6 1005,471 1020,481 1040,500 1055,525 1065,550 1075,575 1082,582 1100,582 1130,588 1160,590 1200,584 1230,572 1250,563 1262,570 1270,580 1290,583 1300,592 1302,640 1304,690 1310,712 1330,724 1360,722 1376,740 1383,760 1384,800 1380,840 1372,862 1362,876M143.5,700 150,660 165,630 200,610 258.6,596 306,584 400,572 452,560 500,540 540,530 600,523 700,520 760,520 836,522 900,520 940,523 980,540 1000,560 1030,585 1060,600 1100,612 1160,626 1210,640 1236,652 1262,664M160,740 162,690 175,660 210,640 258.6,625 306,615 400,600 452,596 500,590 560,580M616,579 700,582 760,586 790,582 836,580 900,588 940,596 1000,612 1060,626 1100,636 1140,650M258.6,700 270,720 300,745 340,770 400,785 460,790 540,790 600,780 680,760 760,744 800,742 836,756 860,776 880,790 910,793M236,740 258.6,772 300,800 360,815 440,822 520,818 600,808 680,795 740,790 800,800 836,806 850,805M300,660 330,680 380,700 440,718 500,730 560,738 640,740 700,735 720,680 720,660 690,655M184,660 190,700 200,740 220,790 260,830 320,850 400,848 500,840 600,826 700,820 760,828 800,840 836,844 850,850M396,876 440,870 500,868 540,870 572,882 540,896 520,906M396,876 420,890 450,905 480,912 496,912M143.5,965 160,975 175,985 180,984M218,971 240,966 258.6,970 290,978 322,990 340,984 375,977 400,978 440,982 480,990 500,992 540,982 600,982 640,988 700,992 740,998 758,1010 770,1000 780,992 800,1012 836,1018 850,1021.8M236,1090 222,1080 218,1070 225,1060 250,1052 262,1040 290,1034 340,1028 400,1022 440,1024 470,1034 500,1044 540,1042 600,1040 660,1039 740,1048 770,1068 800,1071 812,1090 836,1092 850,1088M968,812 993,819 1011,814 1029,798 1043.5,807 1065,794 1101,780M850,805 886,810 921.7,817.6 957.5,833.7 968,848 972,862M1004,884 1022,882 1036,887.5 1050.6,901.8 1057.8,894.7 1072,876.7 1100.8,858.8 1118.7,839 1172.5,833.7 1208,828.4 1237,823 1262,808.7 1280,801.5 1312,812 1333.7,798 1358.8,790.7 1373,801.5M850,826.6 903.7,830 950,837 975,848 1004,853.5 1029,844.5 1054,864 1083,837 1115,807 1154.6,796 1208,790.7 1244,781.8M850,850 886,857 903.7,866 921.7,887.5 939.6,916 927,941 930.6,966 939.6,979 975.4,979 1004,970 1029,948 1050.6,952 1072,961 1083,955.6 1088,934 1083,887.5 1090,880 1100.8,887.5 1111.6,912.6 1129.5,927 1147.4,912.6 1165,918 1172.5,887.5 1190.4,876.7 1215.5,889 1226,869.6 1233.4,853.5 1262,842.7 1280,819.4 1290.7,808.7M850,1021.8 886,1032.6 921.7,1036 966,1036M1011,1038 1036,1034 1054,1047 1072,1043 1093.6,1027 1108,1013 1115,1018 1136.6,1009 1161.7,1018 1176,1009 1194,984 1215.5,966 1244,957 1280,934 1308.6,923 1326.5,923 1351.6,941 1362.4,962.7 1376.7,982 1394.6,975 1409,971.7 1423.3,978.9 1441,966 1459,948 1480.6,944.8 1473.4,887.5 1459,885.7 1455.5,869.6 1466,848 1480.6,839M850,1088 886,1084.6 939.6,1086.4 971.8,1077.4 1029,1068.4 1065,1070 1100.8,1057.7 1136.6,1079 1172.5,1066.6 1208,1061 1244,1045 1265.6,1045 1280,1057.7 1315.8,1048.7 1351.6,1038 1366,1039.8 1387.4,1056 1416,1064.8 1441,1084.6 1477,1097 1495,1098.9 1516.4,1091.7 1530.7,1095M1492,872 1487,890 1490,915 1498,924 1506,918 1510,895 1507,875 1498,869 1492,872M1416,940 1420,920 1432,906 1441,912 1436,930 1424,948 1416,940M1514,964 1522,960 1529,968 1524,980 1515,978 1514,964M1083,1106 1090,1098 1100,1098 1104,1106" fill="none" stroke="#000" stroke-width="1.1"/>
<path d="M143.5,232.6 258,235 400,238 480,239 565,241M665,242.5 700,245 758,245 768,242 836,242 950,243 1100,238 1204,235 1280,231 1400,226 1418,225.5M1478,224 1531,223M143.5,267.8 258,269 400,272 480,270.6 580,273 640,275 700,279 750,285 768,281 836,275 900,278 950,281 1050,277 1160,271 1240,265 1360,259 1414,260 1531,258M143.5,304.4 258,305.5 400,307 480,308 540,310M618,310.5 700,314 780,317 836,314.5 900,317 950,318 1040,313 1160,309 1260,304 1360,299 1414,299 1440,297.5M1504,295 1531,294M143.5,341.6 258,343 400,344 480,343 600,347 700,351 780,354 864,351 950,355 1050,352 1160,347 1254,348 1320,343 1414,338 1531,335M143.5,381.5 258,382.5 400,383 480,382 545,386M618,387.6 700,390 780,394 864,394 950,395 1100,391 1160,386 1250,390 1320,385 1396,381 1428,378.5M1494,375 1531,373M143.5,428.5 258,428 400,428.5 480,428 600,432 700,435 780,440 864,443 900,444 950,438 1100,437 1160,435 1220,437 1320,430 1414,424 1531,421M143.5,481 200,477 258,472.7 394,471 503.5,474.5 590,475M656,480 700,482 748,483 805,486 830.6,486.5 903,485.4 975,480.7 1048,489 1121,480 1193.5,483.6 1284,476 1357,472 1414,472.5M1480,467.5 1531,465.4M143.5,536 258,527 394,526 503,529 612.5,528 721.6,531.6 830.6,535 939,531 1030,541.8 1121,538 1193.5,535 1302.6,525.4 1411.6,521.8 1484,514.5 1531,511M143.5,592.7 176,587 258,583.6 394,581.8 503.5,580 560,581M616,585 721.6,585.4 758,580 830.6,580 921,576 993.6,585.4 1048,592.7 1139,592.7 1230,583.6 1302.6,576 1411.6,571 1448,569M1504,562 1531,556M143.5,690 160,686 200,672 240,664 300,660 400,659 480,662 620,664 700,672 760,670 790,664 810,656 836,648 870,640 930,632 1000,636 1060,642 1100,648 1155,644 1200,640 1260,636 1295,634 1330,636 1400,634 1450,628 1500,618 1531,610M143.5,828 170,832 200,840 240,848 280,852 320,852 420,848 480,837 540,834 590,826 604,812 650,811 690,811M742,808 820,816 834,816 950,832 1010,820 1070,792 1130,768 1170,768 1290,788 1338,776 1370,800 1402,788 1450,816M1498,846 1531,858M143.5,1035 200,1032 252,1022 304,1016 340,1006 380,996 440,988 524,986 600,981 680,976 760,976 776,972 836,969.6 852,970.5 906,979 970,984.4 1013,987.7 1034.5,997 1077,1002.7 1131,1001.6 1146,1009 1205,1014.5 1290,1026 1370,1032 1410,1042 1450,1038 1478,1032 1531,1044M312,1087 360,1088 420,1088 440,1083 470,1078 500,1082 600,1077 730,1071 756,1066 780,1070 836,1077 884,1080 938,1084 974,1089.5M1034,1093 1039,1107" fill="none" stroke="#fff" stroke-width="2.2" stroke-dasharray="4 7"/>
<polyline points="143.5,736 156,712 166,680 172,662 190,652 206,646 233.6,637.6 258.6,629 277,625 306,622 348,620 410,619 452,618.5 493.6,619 540,623 600,637 650,650 690,662 710,672 740,680 770,681 790,677 810,664 830,651 860,638 890,628 920,620 950,622 980,628 1020,634 1060,640 1080,644 1100,652 1120,660 1140,666 1150,661 1168.7,670 1193.7,672.4 1206,667.4 1218.6,658.7 1237.4,653.7 1262.3,653 1274.8,656.2 1287.3,661.2 1299.8,670 1312,666 1325,655 1340,649 1358,649 1372,655 1385,668 1395,680 1406,680 1416,668 1425,652 1440,644 1475,633 1505,625 1531,604" fill="none" stroke="#fff" stroke-width="3.8" stroke-linejoin="round" />
<polyline points="143.5,764 160,734 176,700 186,684 200,674 220,662 240,654 260,650 300,640 348,636 410,635.5 480,635 520,636 560,642 600,650 620,656 630,662 650,680 670,698 700,710 730,718 752,721 730,730 710,742 690,756 666,772 690,778 710,781 730,792 750,798 770,806 790,814 810,818 816,816 808,792 800,764 792,740 780,722 800,706 820,686 840,668 860,656 880,648 900,643 940,640 980,641 1020,644 1060,645 1085,650 1105,664 1125,678 1150,677.4 1175,682.4 1193.7,682.4 1212.4,675 1231,668.7 1249.8,666.2 1268.6,669.3 1287.3,676.2 1306,685 1318.5,683.7 1337.2,675 1356,668.7 1364.7,668.7 1374.6,678.7 1384.6,700 1390,720 1396,700 1408,690 1420,676 1432,662 1455,654 1480,646 1510,636 1531,622" fill="none" stroke="#fff" stroke-width="3.8" stroke-linejoin="round" />
<polyline points="143.5,800 170,768 192,728 200,716 220,704 240,694 260,685 280,670 300,660 320,652 340,649 380,647 420,648 480,650 520,651 560,662 574,674 600,686 620,700 640,714 650,722 630,738 610,748 580,760 550,772 520,784 500,788 460,800 440,810 420,820 380,826 340,834 320,842 300,848 290,852 300,880 310,888 330,886 350,896 370,906 400,908 420,900 430,886 450,872 480,861 500,850 530,838 560,830 590,818 604,802 620,798 650,798 680,800 730,816 740,830 760,842 780,845 800,844 834,836 870,828 922,834 940,836 946,842 952,856 964,854 960,836 954,816 946,806 930,800 902,794 874,792 862,772 850,740 836,706 824,724" fill="none" stroke="#fff" stroke-width="3.8" stroke-linejoin="round" />
<polyline points="824,724 840,700 860,680 874,666 880,660 920,656 960,658 1000,658 1060,659 1080,664 1100,678 1120,690 1140,696 1175,701 1193.7,701 1212.4,694.9 1237.4,690 1262.3,690 1281,693.6 1299.8,702.4 1318.5,709.9 1337.2,706 1349.7,702.4 1362.2,706 1372,719.8 1377,738.6 1382,752.3 1388,738 1396,718 1410,704 1430,690 1460,676 1500,660 1531,644" fill="none" stroke="#fff" stroke-width="3.8" stroke-linejoin="round" />
<polyline points="824,724 826,724" fill="none" stroke="#fff" stroke-width="3.8" stroke-linejoin="round" />
<polyline points="143,618 258,614.4 306,612.4 452,612.4 540,615 630,622.6 680,621 758,619.6 780,625 850,631 892,631" fill="none" stroke="#fff" stroke-width="4.6" stroke-linejoin="round" stroke-dasharray="16 16"/>
<polyline points="910,634 960,647 1020,665 1080,675 1140,677 1200,671 1250,664 1267,663" fill="none" stroke="#fff" stroke-width="4.6" stroke-linejoin="round" stroke-dasharray="16 16"/>
<polyline points="1285,656 1300,654.5 1350,652 1368,646 1395,641 1435,635 1475,631 1505,623 1531,617" fill="none" stroke="#fff" stroke-width="4.6" stroke-linejoin="round" stroke-dasharray="16 16"/>
<polyline points="143,611 202,609 258,607.4 306,605.4 348,606.4 410,606.4 452,605.4 494,606.4 540,608 560,609.6 630,615.6 680,614 730,612.4 758,610.6 780,618 830,624.4 864,625 892,624" fill="none" stroke="#A01818" stroke-width="5" stroke-linejoin="round" />
<polyline points="904,626 960,640 1020,658 1080,668 1140,670 1175,666.8 1200,664.3 1225,660 1250,657.4 1267,656.8" fill="none" stroke="#A01818" stroke-width="5" stroke-linejoin="round" />
<polyline points="1270,650.6 1300,647.5 1325,645.6 1350,645 1368,638.7 1395,634 1435,628 1475,624 1505,616 1531,610" fill="none" stroke="#A01818" stroke-width="5" stroke-linejoin="round" />
<polyline points="143.5,784 160,768 180,740 192,722 204,694 213,684 219,673 233.6,658.4 258.6,648 275,641.8 308.5,633 327,637.6 348,639.7 368.8,640.7 389.6,642.8 408,642.8" fill="none" stroke="#000" stroke-width="6.5" stroke-linejoin="round" />
<polyline points="436,603 437.5,600 452,594 464.5,595 472.8,598 483,596 493.6,598 506,606.4 514.4,616.8 524.8,627 540,640 570,646 610,648 630,658 646,676 660,696 680,724 700,754 720,776 744,792 760,784 780,760 792,740 800,736 816,728 830,704 850,680 870,662 890,653 920,650 960,651 1000,650 1060,650 1080,652 1100,658 1120,672 1140,682 1150,683.6 1168.7,691 1193.7,693.6 1212.4,688.6 1231,680 1249.8,672.4 1256,662.4 1268.6,660 1281,665 1293.5,672.4 1306,678.6 1312.2,672.4 1324.7,662.4 1337.2,656.2 1356,656.2 1368.4,662.4 1380.9,672.4 1393,686 1405,688 1415,678 1423,660 1435,652 1455,648 1475,640 1495,634 1507,634 1515,624 1525,610 1531,606" fill="none" stroke="#000" stroke-width="6.5" stroke-linejoin="round" />
<polyline points="144,802 176,788 200,740 220,700 260,688 300,660 308,654 340,646 380,646 408,643 416,636 424,610 440,600 470,596 500,602 516,624 540,660 560,684 600,700 632,714 640,722 612,736 592,756 584,778 612,788 640,782 700,782 740,796 780,816 820,820 852,814" fill="none" stroke="#000" stroke-width="4" stroke-linejoin="round" stroke-dasharray="14 11"/>
<polyline points="816,800 812,760 828,720 860,680 880,656 900,650" fill="none" stroke="#000" stroke-width="4" stroke-linejoin="round" stroke-dasharray="14 11"/>
<polyline points="336,848 342,868 352,882 366,886 380,872 412,866 430,854 452,836 466,818 458,812" fill="none" stroke="#000" stroke-width="4" stroke-linejoin="round" stroke-dasharray="14 11"/>
<polyline points="500,816 516,800 526,812 522,822" fill="none" stroke="#000" stroke-width="4" stroke-linejoin="round" stroke-dasharray="14 11"/>
<polyline points="1304,562 1302,600 1300,640 1298,668 1296,692 1313,705 1340,692 1365,702 1375,728 1383,756 1397,732 1418,710 1439,688 1464,669 1493,650 1521,631 1531,622" fill="none" stroke="#000" stroke-width="4" stroke-linejoin="round" stroke-dasharray="14 11"/>
<polyline points="1155,668 1168,656 1183,670 1195,672 1207,648 1220,655 1233,678 1244,653 1269,642 1285,650 1296,676" fill="none" stroke="#000" stroke-width="4" stroke-linejoin="round" stroke-dasharray="14 11"/>
<polyline points="996,636 1040,641 1062,632 1085,640 1104,672 1130,684 1150,672" fill="none" stroke="#000" stroke-width="4" stroke-linejoin="round" stroke-dasharray="14 11"/>
<polyline points="1311,580 1311,594" fill="none" stroke="#000" stroke-width="4" stroke-linejoin="round" stroke-dasharray="14 11"/>
<polyline points="408,646 425,651 450,646 480,651 510,653 530,664 548,682" fill="none" stroke="#000" stroke-width="4" stroke-linejoin="round" stroke-dasharray="14 11"/>
</g>
<text x="615.4" y="247.5" font-size="27" font-weight="normal" text-anchor="middle" fill="#fff" stroke="#fff" stroke-width="0.5" transform="rotate(0 615.4 238.0)">520</text>
<text x="579.4" y="317.5" font-size="27" font-weight="normal" text-anchor="middle" fill="#fff" stroke="#fff" stroke-width="0.5" transform="rotate(0 579.4 308.0)">480</text>
<text x="582.4" y="394" font-size="27" font-weight="normal" text-anchor="middle" fill="#fff" stroke="#fff" stroke-width="0.5" transform="rotate(0 582.4 384.5)">440</text>
<text x="623" y="484.5" font-size="27" font-weight="normal" text-anchor="middle" fill="#fff" stroke="#fff" stroke-width="0.5" transform="rotate(0 623 475.0)">400</text>
<text x="588" y="592" font-size="27" font-weight="normal" text-anchor="middle" fill="#fff" stroke="#fff" stroke-width="0.5" transform="rotate(0 588 582.5)">360</text>
<text x="715" y="818" font-size="27" font-weight="normal" text-anchor="middle" fill="#fff" stroke="#fff" stroke-width="0.5" transform="rotate(0 715 808.5)">320</text>
<text x="1003" y="1096" font-size="27" font-weight="normal" text-anchor="middle" fill="#fff" stroke="#fff" stroke-width="0.5" transform="rotate(3 1003 1086.5)">280</text>
<text x="1447.4" y="233.5" font-size="27" font-weight="normal" text-anchor="middle" fill="#fff" stroke="#fff" stroke-width="0.5" transform="rotate(0 1447.4 224.0)">520</text>
<text x="1472" y="303.5" font-size="27" font-weight="normal" text-anchor="middle" fill="#fff" stroke="#fff" stroke-width="0.5" transform="rotate(-6 1472 294.0)">480</text>
<text x="1460" y="382.5" font-size="27" font-weight="normal" text-anchor="middle" fill="#fff" stroke="#fff" stroke-width="0.5" transform="rotate(-9 1460 373.0)">440</text>
<text x="1447" y="474.5" font-size="27" font-weight="normal" text-anchor="middle" fill="#fff" stroke="#fff" stroke-width="0.5" transform="rotate(0 1447 465.0)">400</text>
<text x="1476" y="578" font-size="27" font-weight="normal" text-anchor="middle" fill="#fff" stroke="#fff" stroke-width="0.5" transform="rotate(-11 1476 568.5)">360</text>
<text x="1474" y="842" font-size="27" font-weight="normal" text-anchor="middle" fill="#fff" stroke="#fff" stroke-width="0.5" transform="rotate(28 1474 832.5)">320</text>
<text x="188" y="429.5" font-size="27" font-weight="normal" text-anchor="middle" fill="#000" stroke="#000" stroke-width="0.5" transform="rotate(-20 188 420.0)">20</text>
<text x="1013" y="328" font-size="27" font-weight="normal" text-anchor="middle" fill="#000" stroke="#000" stroke-width="0.5" transform="rotate(-25 1013 318.5)">20</text>
<text x="777" y="492" font-size="27" font-weight="normal" text-anchor="middle" fill="#000" stroke="#000" stroke-width="0.5" transform="rotate(22 777 482.5)">40</text>
<text x="292" y="642" font-size="27" font-weight="normal" text-anchor="middle" fill="#000" stroke="#000" stroke-width="0.5" transform="rotate(-8 292 632.5)">60</text>
<text x="978" y="663" font-size="27" font-weight="normal" text-anchor="middle" fill="#000" stroke="#000" stroke-width="0.5" transform="rotate(5 978 653.5)">80</text>
<text x="952" y="809" font-size="27" font-weight="normal" text-anchor="middle" fill="#000" stroke="#000" stroke-width="0.5" transform="rotate(10 952 799.5)">60</text>
<text x="983" y="887" font-size="27" font-weight="normal" text-anchor="middle" fill="#000" stroke="#000" stroke-width="0.5" transform="rotate(20 983 877.5)">40</text>
<text x="508" y="926" font-size="27" font-weight="normal" text-anchor="middle" fill="#000" stroke="#000" stroke-width="0.5" transform="rotate(-20 508 916.5)">20</text>
<text x="197" y="981" font-size="27" font-weight="normal" text-anchor="middle" fill="#000" stroke="#000" stroke-width="0.5" transform="rotate(-10 197 971.5)">20</text>
<text x="988" y="1044" font-size="27" font-weight="normal" text-anchor="middle" fill="#000" stroke="#000" stroke-width="0.5" transform="rotate(-14 988 1034.5)">20</text>
<text x="184" y="776" font-size="27" font-weight="normal" text-anchor="middle" fill="#000" stroke="#000" stroke-width="0.5" transform="rotate(58 184 766.5)">40</text>
<line x1="259.0" y1="212.5" x2="259.0" y2="1109.2" stroke="#000" stroke-width="3.2"/>
<path d="M250.0,263.4H268.0M250.0,323.8H268.0M250.0,384.1H268.0M250.0,444.5H268.0M250.0,504.8H268.0M250.0,565.2H268.0M250.0,625.6H268.0M250.0,685.9H268.0M250.0,746.3H268.0M250.0,806.6H268.0M250.0,867.0H268.0M250.0,927.4H268.0M250.0,987.7H268.0M250.0,1048.1H268.0M250.0,1108.4H268.0" stroke="#000" stroke-width="2.2" fill="none"/>
<line x1="836.6" y1="212.5" x2="836.6" y2="1109.2" stroke="#000" stroke-width="3.2"/>
<path d="M827.6,263.4H845.6M827.6,323.8H845.6M827.6,384.1H845.6M827.6,444.5H845.6M827.6,504.8H845.6M827.6,565.2H845.6M827.6,625.6H845.6M827.6,685.9H845.6M827.6,746.3H845.6M827.6,806.6H845.6M827.6,867.0H845.6M827.6,927.4H845.6M827.6,987.7H845.6M827.6,1048.1H845.6M827.6,1108.4H845.6" stroke="#000" stroke-width="2.2" fill="none"/>
<line x1="1414.4" y1="212.5" x2="1414.4" y2="1109.2" stroke="#000" stroke-width="3.2"/>
<path d="M1405.4,263.4H1423.4M1405.4,323.8H1423.4M1405.4,384.1H1423.4M1405.4,444.5H1423.4M1405.4,504.8H1423.4M1405.4,565.2H1423.4M1405.4,625.6H1423.4M1405.4,685.9H1423.4M1405.4,746.3H1423.4M1405.4,806.6H1423.4M1405.4,867.0H1423.4M1405.4,927.4H1423.4M1405.4,987.7H1423.4M1405.4,1048.1H1423.4M1405.4,1108.4H1423.4" stroke="#000" stroke-width="2.2" fill="none"/>
<path d="M143.5,212.5H1530.0V1108.4H143.5ZM148.0,1108.4v4.5M148.0,212.5v-4.5M179.3,1108.4v4.5M179.3,212.5v-4.5M210.6,1108.4v9.5M210.6,212.5v-8.5M241.9,1108.4v4.5M241.9,212.5v-4.5M273.2,1108.4v4.5M273.2,212.5v-4.5M304.5,1108.4v4.5M304.5,212.5v-4.5M335.8,1108.4v4.5M335.8,212.5v-4.5M367.1,1108.4v4.5M367.1,212.5v-4.5M398.4,1108.4v4.5M398.4,212.5v-4.5M429.7,1108.4v4.5M429.7,212.5v-4.5M461.0,1108.4v4.5M461.0,212.5v-4.5M492.3,1108.4v4.5M492.3,212.5v-4.5M523.6,1108.4v9.5M523.6,212.5v-8.5M554.9,1108.4v4.5M554.9,212.5v-4.5M586.2,1108.4v4.5M586.2,212.5v-4.5M617.5,1108.4v4.5M617.5,212.5v-4.5M648.8,1108.4v4.5M648.8,212.5v-4.5M680.1,1108.4v4.5M680.1,212.5v-4.5M711.4,1108.4v4.5M711.4,212.5v-4.5M742.7,1108.4v4.5M742.7,212.5v-4.5M774.0,1108.4v4.5M774.0,212.5v-4.5M805.3,1108.4v4.5M805.3,212.5v-4.5M836.6,1108.4v9.5M836.6,212.5v-8.5M867.9,1108.4v4.5M867.9,212.5v-4.5M899.2,1108.4v4.5M899.2,212.5v-4.5M930.5,1108.4v4.5M930.5,212.5v-4.5M961.8,1108.4v4.5M961.8,212.5v-4.5M993.1,1108.4v4.5M993.1,212.5v-4.5M1024.4,1108.4v4.5M1024.4,212.5v-4.5M1055.7,1108.4v4.5M1055.7,212.5v-4.5M1087.0,1108.4v4.5M1087.0,212.5v-4.5M1118.3,1108.4v4.5M1118.3,212.5v-4.5M1149.6,1108.4v9.5M1149.6,212.5v-8.5M1180.9,1108.4v4.5M1180.9,212.5v-4.5M1212.2,1108.4v4.5M1212.2,212.5v-4.5M1243.5,1108.4v4.5M1243.5,212.5v-4.5M1274.8,1108.4v4.5M1274.8,212.5v-4.5M1306.1,1108.4v4.5M1306.1,212.5v-4.5M1337.4,1108.4v4.5M1337.4,212.5v-4.5M1368.7,1108.4v4.5M1368.7,212.5v-4.5M1400.0,1108.4v4.5M1400.0,212.5v-4.5M1431.3,1108.4v4.5M1431.3,212.5v-4.5M1462.6,1108.4v9.5M1462.6,212.5v-8.5M1493.9,1108.4v4.5M1493.9,212.5v-4.5M1525.2,1108.4v4.5M1525.2,212.5v-4.5M143.5,212.5h-13.5M143.5,274.6h-6.5M143.5,325.4h-6.5M143.5,368.3h-6.5M143.5,405.4h-6.5M143.5,438.2h-6.5M143.5,467.5h-13.5M143.5,660.5h-6.5M143.5,773.3h-6.5M143.5,853.4h-6.5M143.5,915.5h-6.5M143.5,966.2h-6.5M143.5,1009.1h-6.5M143.5,1046.3h-6.5M143.5,1079.1h-6.5M143.5,1108.4h-13.5M1530.0,1107.6h14.5M1530.0,1068.0h8M1530.0,1028.4h8M1530.0,988.8h8M1530.0,949.2h8M1530.0,909.6h14.5M1530.0,870.0h8M1530.0,830.4h8M1530.0,790.8h8M1530.0,751.2h8M1530.0,711.6h14.5M1530.0,672.0h8M1530.0,632.4h8M1530.0,592.8h8M1530.0,553.2h8M1530.0,513.6h14.5M1530.0,474.0h8M1530.0,434.4h8M1530.0,394.8h8M1530.0,355.2h8M1530.0,315.6h14.5M1530.0,276.0h8M1530.0,236.4h8M1642.0,213.6V1108.2M1642.0,1108.2h13.5M1642.0,1084.1h6.5M1642.0,1059.9h6.5M1642.0,1035.8h6.5M1642.0,1011.6h6.5M1642.0,987.5h6.5M1642.0,963.4h6.5M1642.0,939.2h6.5M1642.0,915.1h6.5M1642.0,890.9h6.5M1642.0,866.8h13.5M1642.0,842.7h6.5M1642.0,818.5h6.5M1642.0,794.4h6.5M1642.0,770.2h6.5M1642.0,746.1h6.5M1642.0,722.0h6.5M1642.0,697.8h6.5M1642.0,673.7h6.5M1642.0,649.5h6.5M1642.0,625.4h13.5M1642.0,601.3h6.5M1642.0,577.1h6.5M1642.0,553.0h6.5M1642.0,528.8h6.5M1642.0,504.7h6.5M1642.0,480.6h6.5M1642.0,456.4h6.5M1642.0,432.3h6.5M1642.0,408.1h6.5M1642.0,384.0h13.5M1642.0,359.9h6.5M1642.0,335.7h6.5M1642.0,311.6h6.5M1642.0,287.4h6.5M1642.0,263.3h6.5M1642.0,239.2h6.5M1642.0,215.0h6.5" stroke="#111" stroke-width="1.5" fill="none"/>
<text x="960.5" y="100.2" font-size="52" font-weight="bold" text-anchor="middle" fill="#000" textLength="786" lengthAdjust="spacingAndGlyphs">SF_, We-Ea, 2025-12-03T00, Wed.</text>
<text x="143.5" y="144.7" font-size="22" font-weight="bold" text-anchor="middle" fill="#000" textLength="44.5" lengthAdjust="spacingAndGlyphs">36.3</text>
<text x="143.5" y="184.8" font-size="22" font-weight="bold" text-anchor="middle" fill="#000" textLength="58" lengthAdjust="spacingAndGlyphs">258.0</text>
<text x="299.4" y="144.7" font-size="22" font-weight="bold" text-anchor="middle" fill="#000" textLength="44.5" lengthAdjust="spacingAndGlyphs">37.4</text>
<text x="299.4" y="184.8" font-size="22" font-weight="bold" text-anchor="middle" fill="#000" textLength="58" lengthAdjust="spacingAndGlyphs">263.5</text>
<text x="455.3" y="144.7" font-size="22" font-weight="bold" text-anchor="middle" fill="#000" textLength="44.5" lengthAdjust="spacingAndGlyphs">38.2</text>
<text x="455.3" y="184.8" font-size="22" font-weight="bold" text-anchor="middle" fill="#000" textLength="58" lengthAdjust="spacingAndGlyphs">269.1</text>
<text x="611.2" y="144.7" font-size="22" font-weight="bold" text-anchor="middle" fill="#000" textLength="44.5" lengthAdjust="spacingAndGlyphs">38.8</text>
<text x="611.2" y="184.8" font-size="22" font-weight="bold" text-anchor="middle" fill="#000" textLength="58" lengthAdjust="spacingAndGlyphs">274.8</text>
<text x="767.1" y="144.7" font-size="22" font-weight="bold" text-anchor="middle" fill="#000" textLength="44.5" lengthAdjust="spacingAndGlyphs">39.0</text>
<text x="767.1" y="184.8" font-size="22" font-weight="bold" text-anchor="middle" fill="#000" textLength="58" lengthAdjust="spacingAndGlyphs">280.5</text>
<text x="923.0" y="144.7" font-size="22" font-weight="bold" text-anchor="middle" fill="#000" textLength="44.5" lengthAdjust="spacingAndGlyphs">39.0</text>
<text x="923.0" y="184.8" font-size="22" font-weight="bold" text-anchor="middle" fill="#000" textLength="58" lengthAdjust="spacingAndGlyphs">286.3</text>
<text x="1078.9" y="144.7" font-size="22" font-weight="bold" text-anchor="middle" fill="#000" textLength="44.5" lengthAdjust="spacingAndGlyphs">38.7</text>
<text x="1078.9" y="184.8" font-size="22" font-weight="bold" text-anchor="middle" fill="#000" textLength="58" lengthAdjust="spacingAndGlyphs">292.1</text>
<text x="1234.8" y="144.7" font-size="22" font-weight="bold" text-anchor="middle" fill="#000" textLength="44.5" lengthAdjust="spacingAndGlyphs">38.1</text>
<text x="1234.8" y="184.8" font-size="22" font-weight="bold" text-anchor="middle" fill="#000" textLength="58" lengthAdjust="spacingAndGlyphs">297.7</text>
<text x="1390.7" y="144.7" font-size="22" font-weight="bold" text-anchor="middle" fill="#000" textLength="44.5" lengthAdjust="spacingAndGlyphs">37.3</text>
<text x="1390.7" y="184.8" font-size="22" font-weight="bold" text-anchor="middle" fill="#000" textLength="58" lengthAdjust="spacingAndGlyphs">303.3</text>
<text x="102.5" y="144.7" font-size="22" font-weight="bold" text-anchor="end" fill="#000">Lat:</text>
<text x="102.5" y="184.8" font-size="22" font-weight="bold" text-anchor="end" fill="#000">Lon:</text>
<text x="126" y="226.0" font-size="31.3" font-weight="bold" text-anchor="end" fill="#000">40</text>
<text x="126" y="481.0" font-size="31.3" font-weight="bold" text-anchor="end" fill="#000">100</text>
<text x="126" y="786.8" font-size="31.3" font-weight="bold" text-anchor="end" fill="#000">300</text>
<text x="126" y="1121.9" font-size="31.3" font-weight="bold" text-anchor="end" fill="#000">1000</text>
<text x="48.2" y="657.7" font-size="33.7" font-weight="bold" text-anchor="middle" fill="#000" transform="rotate(-90 48.2 657.7)">P (hPa)</text>
<text x="210.6" y="1158" font-size="31.5" font-weight="bold" text-anchor="middle" fill="#000" textLength="82.5" lengthAdjust="spacingAndGlyphs">-2000</text>
<text x="523.6" y="1158" font-size="31.5" font-weight="bold" text-anchor="middle" fill="#000" textLength="82.5" lengthAdjust="spacingAndGlyphs">-1000</text>
<text x="836.6" y="1158" font-size="31.5" font-weight="bold" text-anchor="middle" fill="#000">0</text>
<text x="1149.6" y="1158" font-size="31.5" font-weight="bold" text-anchor="middle" fill="#000" textLength="71" lengthAdjust="spacingAndGlyphs">1000</text>
<text x="1462.6" y="1158" font-size="31.5" font-weight="bold" text-anchor="middle" fill="#000" textLength="71" lengthAdjust="spacingAndGlyphs">2000</text>
<text x="837.2" y="1194.5" font-size="32.5" font-weight="bold" text-anchor="middle" fill="#000" textLength="216.4" lengthAdjust="spacingAndGlyphs">Distance (km)</text>
<text x="1551.5" y="325.4" font-size="26" font-weight="bold" text-anchor="start" fill="#000">20</text>
<text x="1551.5" y="523.4" font-size="26" font-weight="bold" text-anchor="start" fill="#000">15</text>
<text x="1551.5" y="721.4" font-size="26" font-weight="bold" text-anchor="start" fill="#000">10</text>
<text x="1551.5" y="919.4" font-size="26" font-weight="bold" text-anchor="start" fill="#000">5</text>
<text x="1551.5" y="1117.4" font-size="26" font-weight="bold" text-anchor="start" fill="#000">0</text>
<text x="1604" y="659.8" font-size="26.2" font-weight="bold" text-anchor="middle" fill="#000" transform="rotate(-90 1604 659.8)">Z (km)</text>
<text x="1662.5" y="393.0" font-size="26" font-weight="bold" text-anchor="start" fill="#000">60</text>
<text x="1662.5" y="634.4" font-size="26" font-weight="bold" text-anchor="start" fill="#000">40</text>
<text x="1662.5" y="875.8" font-size="26" font-weight="bold" text-anchor="start" fill="#000">20</text>
<text x="1662.5" y="1117.2" font-size="26" font-weight="bold" text-anchor="start" fill="#000">0</text>
<text x="1715.3" y="660.2" font-size="26" font-weight="bold" text-anchor="middle" fill="#000" transform="rotate(-90 1715.3 660.2)">Z (kft)</text>
<rect x="1747.5" y="968.28" width="26.5" height="12.32" fill="#9A0E0E" shape-rendering="crispEdges"/>
<rect x="1747.5" y="956.56" width="26.5" height="12.32" fill="#A41A1C" shape-rendering="crispEdges"/>
<rect x="1747.5" y="944.84" width="26.5" height="12.32" fill="#B0282A" shape-rendering="crispEdges"/>
<rect x="1747.5" y="933.12" width="26.5" height="12.32" fill="#BC383A" shape-rendering="crispEdges"/>
<rect x="1747.5" y="921.40" width="26.5" height="12.32" fill="#C84C4C" shape-rendering="crispEdges"/>
<rect x="1747.5" y="909.68" width="26.5" height="12.32" fill="#D46064" shape-rendering="crispEdges"/>
<rect x="1747.5" y="897.96" width="26.5" height="12.32" fill="#E07478" shape-rendering="crispEdges"/>
<rect x="1747.5" y="886.24" width="26.5" height="12.32" fill="#EC888C" shape-rendering="crispEdges"/>
<rect x="1747.5" y="874.52" width="26.5" height="12.32" fill="#F8A0A4" shape-rendering="crispEdges"/>
<rect x="1747.5" y="862.80" width="26.5" height="12.32" fill="#E49888" shape-rendering="crispEdges"/>
<rect x="1747.5" y="851.08" width="26.5" height="12.32" fill="#B86C3C" shape-rendering="crispEdges"/>
<rect x="1747.5" y="839.36" width="26.5" height="12.32" fill="#9C5614" shape-rendering="crispEdges"/>
<rect x="1747.5" y="827.64" width="26.5" height="12.32" fill="#A4601E" shape-rendering="crispEdges"/>
<rect x="1747.5" y="815.92" width="26.5" height="12.32" fill="#B06C2C" shape-rendering="crispEdges"/>
<rect x="1747.5" y="804.20" width="26.5" height="12.32" fill="#C08040" shape-rendering="crispEdges"/>
<rect x="1747.5" y="792.48" width="26.5" height="12.32" fill="#CC9054" shape-rendering="crispEdges"/>
<rect x="1747.5" y="780.76" width="26.5" height="12.32" fill="#D8A068" shape-rendering="crispEdges"/>
<rect x="1747.5" y="769.04" width="26.5" height="12.32" fill="#E8B480" shape-rendering="crispEdges"/>
<rect x="1747.5" y="757.32" width="26.5" height="12.32" fill="#F4C89C" shape-rendering="crispEdges"/>
<rect x="1747.5" y="745.60" width="26.5" height="12.32" fill="#F0D4A0" shape-rendering="crispEdges"/>
<rect x="1747.5" y="733.88" width="26.5" height="12.32" fill="#A8B858" shape-rendering="crispEdges"/>
<rect x="1747.5" y="722.16" width="26.5" height="12.32" fill="#6AA016" shape-rendering="crispEdges"/>
<rect x="1747.5" y="710.44" width="26.5" height="12.32" fill="#76AA22" shape-rendering="crispEdges"/>
<rect x="1747.5" y="698.72" width="26.5" height="12.32" fill="#82B430" shape-rendering="crispEdges"/>
<rect x="1747.5" y="687.00" width="26.5" height="12.32" fill="#90BE42" shape-rendering="crispEdges"/>
<rect x="1747.5" y="675.28" width="26.5" height="12.32" fill="#9ECA52" shape-rendering="crispEdges"/>
<rect x="1747.5" y="663.56" width="26.5" height="12.32" fill="#ACD564" shape-rendering="crispEdges"/>
<rect x="1747.5" y="651.84" width="26.5" height="12.32" fill="#C0E07C" shape-rendering="crispEdges"/>
<rect x="1747.5" y="640.12" width="26.5" height="12.32" fill="#CEEC92" shape-rendering="crispEdges"/>
<rect x="1747.5" y="628.40" width="26.5" height="12.32" fill="#DCF8A8" shape-rendering="crispEdges"/>
<rect x="1747.5" y="616.68" width="26.5" height="12.32" fill="#A0D0A8" shape-rendering="crispEdges"/>
<rect x="1747.5" y="604.96" width="26.5" height="12.32" fill="#38869E" shape-rendering="crispEdges"/>
<rect x="1747.5" y="593.24" width="26.5" height="12.32" fill="#1A72A2" shape-rendering="crispEdges"/>
<rect x="1747.5" y="581.52" width="26.5" height="12.32" fill="#2A7EAE" shape-rendering="crispEdges"/>
<rect x="1747.5" y="569.80" width="26.5" height="12.32" fill="#3A8CBC" shape-rendering="crispEdges"/>
<rect x="1747.5" y="558.08" width="26.5" height="12.32" fill="#4A9AC6" shape-rendering="crispEdges"/>
<rect x="1747.5" y="546.36" width="26.5" height="12.32" fill="#5CA8D0" shape-rendering="crispEdges"/>
<rect x="1747.5" y="534.64" width="26.5" height="12.32" fill="#70B8DC" shape-rendering="crispEdges"/>
<rect x="1747.5" y="522.92" width="26.5" height="12.32" fill="#86C8E6" shape-rendering="crispEdges"/>
<rect x="1747.5" y="511.20" width="26.5" height="12.32" fill="#9ED6F0" shape-rendering="crispEdges"/>
<rect x="1747.5" y="499.48" width="26.5" height="12.32" fill="#98C0EC" shape-rendering="crispEdges"/>
<rect x="1747.5" y="487.76" width="26.5" height="12.32" fill="#5858B8" shape-rendering="crispEdges"/>
<rect x="1747.5" y="476.04" width="26.5" height="12.32" fill="#2A1098" shape-rendering="crispEdges"/>
<rect x="1747.5" y="464.32" width="26.5" height="12.32" fill="#3822A6" shape-rendering="crispEdges"/>
<rect x="1747.5" y="452.60" width="26.5" height="12.32" fill="#4630B2" shape-rendering="crispEdges"/>
<rect x="1747.5" y="440.88" width="26.5" height="12.32" fill="#563CBE" shape-rendering="crispEdges"/>
<rect x="1747.5" y="429.16" width="26.5" height="12.32" fill="#684ECA" shape-rendering="crispEdges"/>
<rect x="1747.5" y="417.44" width="26.5" height="12.32" fill="#7B68D6" shape-rendering="crispEdges"/>
<rect x="1747.5" y="405.72" width="26.5" height="12.32" fill="#8F7EE2" shape-rendering="crispEdges"/>
<rect x="1747.5" y="394.00" width="26.5" height="12.32" fill="#A594EE" shape-rendering="crispEdges"/>
<path d="M1747.5,387V986M1774,387V986M1747.5,394H1774M1747.5,980H1774M1747.5,405.7h4.5M1774,405.7h-4.5M1747.5,417.4h4.5M1774,417.4h-4.5M1747.5,429.2h4.5M1774,429.2h-4.5M1747.5,440.9h4.5M1774,440.9h-4.5M1747.5,452.6h4.5M1774,452.6h-4.5M1747.5,464.3h4.5M1774,464.3h-4.5M1747.5,476.0h4.5M1774,476.0h-4.5M1747.5,487.8h4.5M1774,487.8h-4.5M1747.5,499.5h4.5M1774,499.5h-4.5M1747.5,511.2h4.5M1774,511.2h-4.5M1747.5,522.9h4.5M1774,522.9h-4.5M1747.5,534.6h4.5M1774,534.6h-4.5M1747.5,546.4h4.5M1774,546.4h-4.5M1747.5,558.1h4.5M1774,558.1h-4.5M1747.5,569.8h4.5M1774,569.8h-4.5M1747.5,581.5h4.5M1774,581.5h-4.5M1747.5,593.2h4.5M1774,593.2h-4.5M1747.5,605.0h4.5M1774,605.0h-4.5M1747.5,616.7h4.5M1774,616.7h-4.5M1747.5,628.4h4.5M1774,628.4h-4.5M1747.5,640.1h4.5M1774,640.1h-4.5M1747.5,651.8h4.5M1774,651.8h-4.5M1747.5,663.6h4.5M1774,663.6h-4.5M1747.5,675.3h4.5M1774,675.3h-4.5M1747.5,687.0h4.5M1774,687.0h-4.5M1747.5,698.7h4.5M1774,698.7h-4.5M1747.5,710.4h4.5M1774,710.4h-4.5M1747.5,722.2h4.5M1774,722.2h-4.5M1747.5,733.9h4.5M1774,733.9h-4.5M1747.5,745.6h4.5M1774,745.6h-4.5M1747.5,757.3h4.5M1774,757.3h-4.5M1747.5,769.0h4.5M1774,769.0h-4.5M1747.5,780.8h4.5M1774,780.8h-4.5M1747.5,792.5h4.5M1774,792.5h-4.5M1747.5,804.2h4.5M1774,804.2h-4.5M1747.5,815.9h4.5M1774,815.9h-4.5M1747.5,827.6h4.5M1774,827.6h-4.5M1747.5,839.4h4.5M1774,839.4h-4.5M1747.5,851.1h4.5M1774,851.1h-4.5M1747.5,862.8h4.5M1774,862.8h-4.5M1747.5,874.5h4.5M1774,874.5h-4.5M1747.5,886.2h4.5M1774,886.2h-4.5M1747.5,898.0h4.5M1774,898.0h-4.5M1747.5,909.7h4.5M1774,909.7h-4.5M1747.5,921.4h4.5M1774,921.4h-4.5M1747.5,933.1h4.5M1774,933.1h-4.5M1747.5,944.8h4.5M1774,944.8h-4.5M1747.5,956.6h4.5M1774,956.6h-4.5M1747.5,968.3h4.5M1774,968.3h-4.5" stroke="#111" stroke-width="1.5" fill="none"/>
<text x="1796" y="404.4" font-size="31" font-weight="bold" text-anchor="start" fill="#000">100</text>
<text x="1796" y="989.5" font-size="31" font-weight="bold" text-anchor="start" fill="#000">0.0</text>
<text x="1822.4" y="687.2" font-size="33.5" font-weight="bold" text-anchor="middle" fill="#000" transform="rotate(-90 1822.4 687.2)">SF_</text>
<text x="110" y="1215.6" font-size="46" font-weight="bold" text-anchor="start" fill="#000">We</text>
<text x="1502" y="1215.3" font-size="45.8" font-weight="bold" text-anchor="start" fill="#000">Ea</text>
<text x="124.5" y="1303.6" font-size="32.5" font-weight="bold" text-anchor="start" fill="#000" textLength="99" lengthAdjust="spacingAndGlyphs">FH168</text>
<text x="11" y="1387" font-size="22.8" font-weight="bold" text-anchor="start" fill="#000" textLength="281.5" lengthAdjust="spacingAndGlyphs">Thu Nov 27 07:02:16 2025</text>
<text x="1492.7" y="1317.7" font-size="20.5" font-weight="bold" text-anchor="start" fill="#A01820" textLength="193" lengthAdjust="spacingAndGlyphs">WMO trop = 3.0K/km</text>
<text x="1740.7" y="1387.6" font-size="16" font-weight="bold" text-anchor="start" fill="#000" textLength="187" lengthAdjust="spacingAndGlyphs">Paul A. Newman (NASA</text>
<rect x="1055.2" y="1164.3" width="400.3" height="210.2" fill="#BCADFC"/>
<line x1="1078" y1="1193.8" x2="1204.2" y2="1193.8" stroke="#000" stroke-width="3.6" stroke-dasharray="15.6 16.2"/>
<line x1="1078" y1="1227.2" x2="1204.2" y2="1227.2" stroke="#000" stroke-width="7"/>
<line x1="1078" y1="1260" x2="1204.2" y2="1260" stroke="#fff" stroke-width="5" stroke-dasharray="15.6 16.2"/>
<line x1="1078" y1="1293.4" x2="1204.2" y2="1293.4" stroke="#fff" stroke-width="4.5"/>
<line x1="1078" y1="1326" x2="1204.2" y2="1326" stroke="#000" stroke-width="1.8"/>
<line x1="1078" y1="1360" x2="1204.2" y2="1360" stroke="#fff" stroke-width="1.8" stroke-dasharray="3 5.3"/>
<text x="1226" y="1200" font-size="19.8" font-weight="bold" text-anchor="start" fill="#000">Epv = 3.0 units</text>
<text x="1226" y="1233.8" font-size="19.8" font-weight="bold" text-anchor="start" fill="#000">GMAO tropopause</text>
<text x="1226" y="1266.5" font-size="19.8" font-weight="bold" text-anchor="start" fill="#000">N<tspan font-size="11" dy="-8">2</tspan><tspan dy="8"> = 3.0 x 10</tspan><tspan font-size="11" dy="-8">-4</tspan><tspan dy="8"> s</tspan><tspan font-size="11" dy="-8">-2</tspan></text>
<text x="1226" y="1300" font-size="19.8" font-weight="bold" text-anchor="start" fill="#000">O<tspan font-size="11" dy="5">3</tspan><tspan dy="-5"> = 150, 200, 250 ppb</tspan></text>
<text x="1226" y="1332.6" font-size="19.8" font-weight="bold" text-anchor="start" fill="#000">Wind speed (m/s)</text>
<text x="1226" y="1366.4" font-size="19.8" font-weight="bold" text-anchor="start" fill="#000">Theta (K)</text>
<defs><clipPath id="mc"><rect x="428.4" y="1192.1" width="228.2" height="168.3"/></clipPath></defs>
<g clip-path="url(#mc)">
<path d="M428.4,1208.2 458.7,1227.6 497.5,1247.0 536.2,1249.6 575.0,1241.8 613.7,1226.3 656.6,1209.5M428.4,1248.3 471.7,1267.7 510.4,1278.0 549.1,1278.0 587.9,1272.8 626.6,1257.3 656.6,1243.1M428.4,1284.4 471.7,1299.9 510.4,1307.7 549.1,1307.7 587.9,1301.2 626.6,1288.3 656.6,1275.4M428.4,1319.3 471.7,1330.9 510.4,1336.1 549.1,1336.1 587.9,1330.9 626.6,1320.6 656.6,1310.3M428.4,1352.9 452.3,1358.1 471.7,1360.4M600.8,1360.4 633.1,1352.9 656.6,1343.9M443.2,1192.7 471.7,1210.8 510.4,1227.6 542.7,1230.2 581.4,1222.5 620.2,1201.8M510.4,1192.7 502.7,1223.7 492.3,1262.5 476.8,1301.2 456.2,1340.0 445.8,1360.4M542.7,1192.7 542.7,1236.7 542.7,1281.9 542.7,1327.1 542.7,1360.4M591.8,1210.8 600.8,1236.7 613.7,1275.4 629.2,1314.1 647.3,1360.4M474.2,1192.7 458.7,1223.7 438.1,1257.3 428.4,1270.2M626.6,1197.9 639.6,1236.7 652.5,1275.4 656.6,1290.9" fill="none" stroke="#111" stroke-width="1" stroke-dasharray="2.2 3.4"/>
<path d="M428.4,1268.9 433.6,1272.8 436.1,1278.0 438.1,1281.2 445.8,1287.0 453.6,1290.9 458.7,1290.3 463.9,1293.5 469.1,1299.9 474.2,1301.9 476.8,1309.0 480.7,1314.1 484.6,1309.0 489.7,1305.8 497.5,1303.8 503.9,1305.1 509.1,1307.0 515.6,1304.5 522.0,1307.0 525.9,1312.9 528.5,1319.3 531.1,1321.3 532.4,1318.0 530.4,1311.6 529.8,1303.2 533.7,1298.7 540.1,1294.1 544.6,1290.3 544.0,1287.0 547.9,1283.2 550.4,1278.0 555.6,1274.1 556.9,1270.2 560.8,1266.4 565.9,1263.8 569.8,1259.9 575.0,1257.3 580.1,1254.7 578.9,1250.9 582.7,1247.0 587.9,1245.7 593.1,1248.3 593.1,1252.2 587.9,1252.2 586.0,1249.6M436.1,1278.0 436.8,1285.7 439.4,1296.1 442.0,1306.4 444.5,1314.1 445.8,1309.0 443.9,1298.7 441.3,1288.3 440.7,1281.9 447.1,1289.6 451.0,1301.2 454.9,1314.1 456.2,1324.5 458.7,1329.6 466.5,1336.1 474.2,1341.3 480.7,1345.1 488.4,1346.4 494.9,1351.6 502.7,1356.8 510.4,1360.4M480.7,1314.1 482.0,1321.9 480.7,1327.1 484.6,1334.8 492.3,1340.0 498.8,1338.7 502.7,1332.9 510.4,1331.6 509.1,1337.4 505.2,1343.9 502.7,1349.0 510.4,1349.0 518.2,1350.3 522.0,1352.9 520.7,1360.4M497.5,1350.3 500.1,1352.9 503.9,1356.8 507.8,1359.4M536.2,1268.9 542.7,1266.4 549.1,1263.8 554.3,1261.2 556.9,1257.3 562.1,1249.6 567.2,1247.0 572.4,1248.3 576.3,1245.7 581.4,1241.8M587.9,1245.7 586.6,1241.8 581.4,1236.7 575.0,1230.2 568.5,1223.7 562.1,1218.6 559.5,1221.8 555.6,1219.9 556.9,1214.7 553.0,1210.8 549.1,1213.4 544.0,1210.8 541.4,1214.7 540.8,1223.7 541.4,1227.6 538.2,1231.5 538.8,1239.2 537.5,1245.7 533.7,1243.1 532.4,1236.7 527.2,1232.8 522.0,1228.9 515.6,1225.0 513.0,1217.3 515.6,1210.8 522.0,1207.0 527.2,1201.8 529.8,1196.6 527.2,1192.7M444.5,1227.0 458.7,1234.1 471.7,1240.5 484.6,1245.1 497.5,1248.3 510.4,1251.5 514.3,1253.4 518.2,1255.4M571.1,1192.7 575.0,1199.2 581.4,1205.7 587.9,1209.5 594.4,1208.9 593.7,1200.5 591.8,1192.7M519.4,1329.6 527.2,1331.6 536.2,1334.8 544.0,1337.4 550.4,1337.4 556.9,1339.3M537.5,1318.0 541.4,1319.3 546.6,1325.8 549.1,1328.4M531.1,1192.7 533.7,1199.2 536.2,1204.4 540.1,1205.7 544.0,1200.5 542.7,1194.0M546.6,1192.7 549.1,1200.5 554.3,1205.7 560.8,1204.4 562.1,1197.9 559.5,1192.7" fill="none" stroke="#000" stroke-width="2.6" stroke-linejoin="round"/>
<ellipse cx="487.2" cy="1200.5" rx="7.1" ry="2.3" fill="none" stroke="#000" stroke-width="2.4"/>
<ellipse cx="489.1" cy="1211.5" rx="3.2" ry="1.5" fill="none" stroke="#000" stroke-width="2.4"/>
<ellipse cx="498.1" cy="1221.2" rx="1.8" ry="2.8" fill="none" stroke="#000" stroke-width="2.4"/>
<ellipse cx="500.1" cy="1238.0" rx="3.6" ry="5.2" fill="none" stroke="#000" stroke-width="2.4"/>
<ellipse cx="523.3" cy="1257.3" rx="5.8" ry="3.9" fill="none" stroke="#000" stroke-width="2.4"/>
<ellipse cx="529.8" cy="1265.1" rx="5.2" ry="4.5" fill="none" stroke="#000" stroke-width="2.4"/>
<ellipse cx="519.4" cy="1267.7" rx="2.3" ry="4.5" fill="none" stroke="#000" stroke-width="2.4"/>
<ellipse cx="564.6" cy="1254.7" rx="4.5" ry="3.2" fill="none" stroke="#000" stroke-width="2.4"/>
<ellipse cx="572.4" cy="1259.9" rx="5.8" ry="2.6" fill="none" stroke="#000" stroke-width="2.4"/>
<ellipse cx="556.9" cy="1342.6" rx="8.4" ry="1.3" fill="none" stroke="#000" stroke-width="2.4"/>
<ellipse cx="573.7" cy="1341.9" rx="3.2" ry="1.0" fill="none" stroke="#000" stroke-width="2.4"/>
<ellipse cx="541.4" cy="1343.2" rx="3.2" ry="1.0" fill="none" stroke="#000" stroke-width="2.4"/>
<ellipse cx="591.1" cy="1348.4" rx="1.8" ry="3.2" fill="none" stroke="#000" stroke-width="2.4"/>
<ellipse cx="554.3" cy="1207.0" rx="5.2" ry="3.2" fill="none" stroke="#000" stroke-width="2.4"/>
<ellipse cx="523.3" cy="1330.9" rx="3.9" ry="1.3" fill="none" stroke="#000" stroke-width="2.4"/>
</g>
<rect x="428.4" y="1192.1" width="228.2" height="168.3" fill="none" stroke="#111" stroke-width="1.4"/>
<circle cx="542.4" cy="1281.9" r="51.5" fill="none" stroke="#A01818" stroke-width="1.8"/>
<line x1="478.1" y1="1281.9" x2="606" y2="1281.9" stroke="#A01818" stroke-width="4.2"/>
<polygon points="542.4,1271.4 544.9,1278.5 552.4,1278.7 546.4,1283.2 548.6,1290.4 542.4,1286.1 536.2,1290.4 538.4,1283.2 532.4,1278.7 539.9,1278.5" fill="#A01818"/>
</g>
</svg>
</body></html>
